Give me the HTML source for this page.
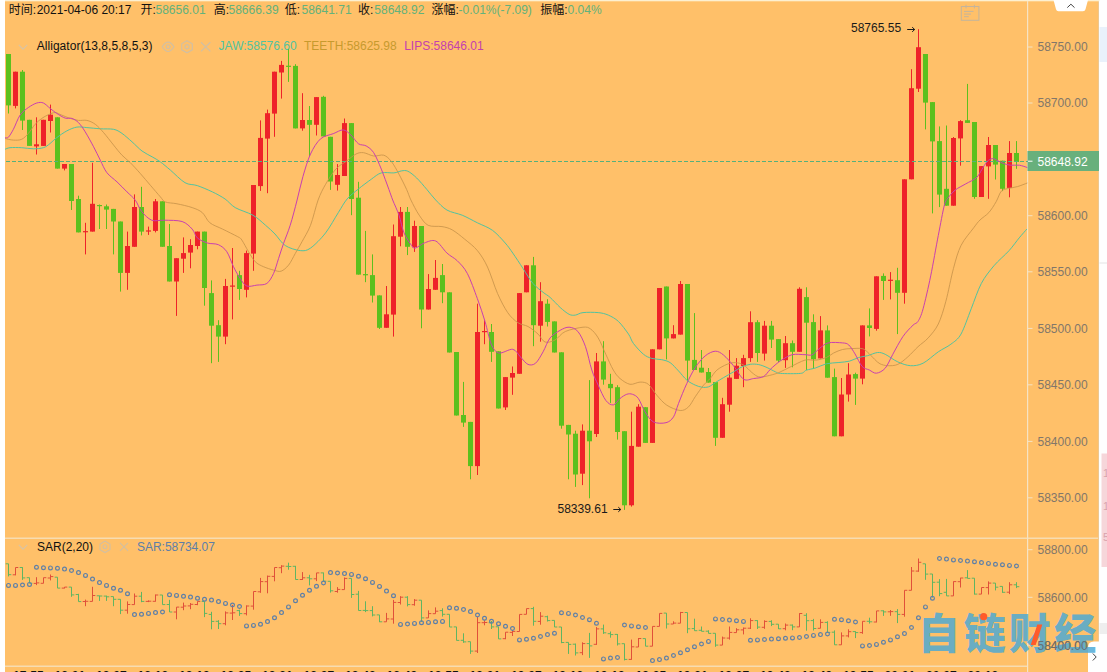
<!DOCTYPE html><html lang="zh"><head><meta charset="utf-8"><title>K</title>
<style>html,body{margin:0;padding:0;background:#ffc069;overflow:hidden}svg{display:block}text{font-family:"Liberation Sans","Noto Sans CJK SC",sans-serif}</style></head><body>
<svg width="1107" height="672" viewBox="0 0 1107 672">
<rect width="1107" height="672" fill="#ffc069"/>
<rect x="1098" y="0" width="1.2" height="672" fill="#ecc791"/>
<rect x="1099" y="0" width="8" height="672" fill="#fefefe"/>
<rect x="1099.5" y="27" width="7.5" height="35" fill="#e9f1fb"/>
<rect x="1101.5" y="453.5" width="5.5" height="113.5" fill="#f6d6da"/>
<rect x="1099.5" y="623" width="7.5" height="11" fill="#eeeeee"/>
<rect x="1099.5" y="262.5" width="7.5" height="1" fill="#e4e4e4"/>
<g font-size="11" fill="#d9a3ad"><text x="1103" y="477">1</text><text x="1103" y="510">1</text><text x="1103" y="541">5</text></g>
<rect x="5" y="0" width="1094.5" height="1.3" fill="#fdf0d0"/>
<rect x="0" y="0" width="5" height="672" fill="#ffffff"/>
<rect x="5" y="537.6" width="1093" height="1.2" fill="#f6e3c4"/>
<rect x="5" y="665.6" width="1023" height="1.2" fill="#f6e3c4"/>
<rect x="1027" y="1" width="1.2" height="671" fill="#f6e3c4"/>
<line x1="8.5" y1="54.0" x2="8.5" y2="113.5" stroke="#5cc01e" stroke-width="1"/>
<rect x="6.0" y="54.0" width="5" height="51.4" fill="#5cc01e"/>
<line x1="15.5" y1="71.7" x2="15.5" y2="108.4" stroke="#ee2229" stroke-width="1"/>
<rect x="13.0" y="71.7" width="5" height="34.2" fill="#ee2229"/>
<line x1="22.5" y1="70.0" x2="22.5" y2="130.0" stroke="#5cc01e" stroke-width="1"/>
<rect x="20.0" y="71.7" width="5" height="48.9" fill="#5cc01e"/>
<line x1="29.5" y1="119.8" x2="29.5" y2="145.9" stroke="#5cc01e" stroke-width="1"/>
<rect x="27.0" y="119.8" width="5" height="26.1" fill="#5cc01e"/>
<line x1="36.5" y1="117.3" x2="36.5" y2="154.5" stroke="#ee2229" stroke-width="1"/>
<rect x="34.0" y="144.3" width="5" height="2.1" fill="#ee2229"/>
<line x1="43.5" y1="119.8" x2="43.5" y2="145.9" stroke="#ee2229" stroke-width="1"/>
<rect x="41.0" y="119.8" width="5" height="26.1" fill="#ee2229"/>
<line x1="50.5" y1="104.6" x2="50.5" y2="132.5" stroke="#ee2229" stroke-width="1"/>
<rect x="48.0" y="114.7" width="5" height="6.3" fill="#ee2229"/>
<line x1="57.5" y1="117.3" x2="57.5" y2="168.6" stroke="#5cc01e" stroke-width="1"/>
<rect x="55.0" y="117.3" width="5" height="51.3" fill="#5cc01e"/>
<line x1="64.5" y1="164.0" x2="64.5" y2="170.4" stroke="#ee2229" stroke-width="1"/>
<rect x="62.0" y="164.0" width="5" height="4.6" fill="#ee2229"/>
<line x1="71.5" y1="164.0" x2="71.5" y2="210.0" stroke="#5cc01e" stroke-width="1"/>
<rect x="69.0" y="164.0" width="5" height="37.0" fill="#5cc01e"/>
<line x1="78.5" y1="195.7" x2="78.5" y2="232.4" stroke="#5cc01e" stroke-width="1"/>
<rect x="76.0" y="199.0" width="5" height="33.4" fill="#5cc01e"/>
<line x1="85.5" y1="222.8" x2="85.5" y2="254.4" stroke="#ee2229" stroke-width="1"/>
<rect x="83.0" y="231.1" width="5" height="1.2" fill="#ee2229"/>
<line x1="92.5" y1="162.8" x2="92.5" y2="231.6" stroke="#ee2229" stroke-width="1"/>
<rect x="90.0" y="203.8" width="5" height="27.8" fill="#ee2229"/>
<line x1="99.5" y1="204.5" x2="99.5" y2="229.0" stroke="#5cc01e" stroke-width="1"/>
<rect x="97.0" y="205.0" width="5" height="1.2" fill="#5cc01e"/>
<line x1="106.5" y1="204.5" x2="106.5" y2="229.0" stroke="#5cc01e" stroke-width="1"/>
<rect x="104.0" y="206.3" width="5" height="3.3" fill="#5cc01e"/>
<line x1="113.5" y1="208.9" x2="113.5" y2="254.4" stroke="#5cc01e" stroke-width="1"/>
<rect x="111.0" y="208.9" width="5" height="12.6" fill="#5cc01e"/>
<line x1="120.5" y1="221.5" x2="120.5" y2="291.6" stroke="#5cc01e" stroke-width="1"/>
<rect x="118.0" y="221.5" width="5" height="51.4" fill="#5cc01e"/>
<line x1="127.5" y1="231.6" x2="127.5" y2="289.8" stroke="#ee2229" stroke-width="1"/>
<rect x="125.0" y="246.0" width="5" height="26.9" fill="#ee2229"/>
<line x1="134.5" y1="194.4" x2="134.5" y2="246.8" stroke="#ee2229" stroke-width="1"/>
<rect x="132.0" y="207.0" width="5" height="39.8" fill="#ee2229"/>
<line x1="141.5" y1="186.8" x2="141.5" y2="235.4" stroke="#5cc01e" stroke-width="1"/>
<rect x="139.0" y="207.0" width="5" height="24.6" fill="#5cc01e"/>
<line x1="148.5" y1="226.6" x2="148.5" y2="234.9" stroke="#ee2229" stroke-width="1"/>
<rect x="146.0" y="230.4" width="5" height="1.2" fill="#ee2229"/>
<line x1="155.5" y1="199.0" x2="155.5" y2="232.4" stroke="#ee2229" stroke-width="1"/>
<rect x="153.0" y="201.3" width="5" height="29.6" fill="#ee2229"/>
<line x1="162.5" y1="201.3" x2="162.5" y2="246.8" stroke="#5cc01e" stroke-width="1"/>
<rect x="160.0" y="201.3" width="5" height="45.5" fill="#5cc01e"/>
<line x1="169.5" y1="224.0" x2="169.5" y2="281.5" stroke="#5cc01e" stroke-width="1"/>
<rect x="167.0" y="246.0" width="5" height="35.5" fill="#5cc01e"/>
<line x1="176.5" y1="258.2" x2="176.5" y2="315.9" stroke="#ee2229" stroke-width="1"/>
<rect x="174.0" y="258.2" width="5" height="23.3" fill="#ee2229"/>
<line x1="183.5" y1="237.4" x2="183.5" y2="272.9" stroke="#ee2229" stroke-width="1"/>
<rect x="181.0" y="253.1" width="5" height="5.6" fill="#ee2229"/>
<line x1="190.5" y1="239.2" x2="190.5" y2="268.3" stroke="#ee2229" stroke-width="1"/>
<rect x="188.0" y="245.0" width="5" height="7.6" fill="#ee2229"/>
<line x1="197.5" y1="231.6" x2="197.5" y2="249.3" stroke="#ee2229" stroke-width="1"/>
<rect x="195.0" y="231.6" width="5" height="14.4" fill="#ee2229"/>
<line x1="204.5" y1="231.6" x2="204.5" y2="305.7" stroke="#5cc01e" stroke-width="1"/>
<rect x="202.0" y="231.6" width="5" height="56.4" fill="#5cc01e"/>
<line x1="211.5" y1="280.4" x2="211.5" y2="363.2" stroke="#5cc01e" stroke-width="1"/>
<rect x="209.0" y="293.1" width="5" height="32.6" fill="#5cc01e"/>
<line x1="218.5" y1="320.2" x2="218.5" y2="361.9" stroke="#5cc01e" stroke-width="1"/>
<rect x="216.0" y="325.2" width="5" height="11.4" fill="#5cc01e"/>
<line x1="225.5" y1="278.9" x2="225.5" y2="344.2" stroke="#ee2229" stroke-width="1"/>
<rect x="223.0" y="286.0" width="5" height="50.6" fill="#ee2229"/>
<line x1="232.5" y1="248.0" x2="232.5" y2="319.4" stroke="#ee2229" stroke-width="1"/>
<rect x="230.0" y="285.5" width="5" height="1.2" fill="#ee2229"/>
<line x1="239.5" y1="270.8" x2="239.5" y2="299.9" stroke="#5cc01e" stroke-width="1"/>
<rect x="237.0" y="275.1" width="5" height="13.9" fill="#5cc01e"/>
<line x1="246.5" y1="250.6" x2="246.5" y2="297.4" stroke="#ee2229" stroke-width="1"/>
<rect x="244.0" y="253.1" width="5" height="36.7" fill="#ee2229"/>
<line x1="253.5" y1="185.0" x2="253.5" y2="270.8" stroke="#ee2229" stroke-width="1"/>
<rect x="251.0" y="185.0" width="5" height="68.6" fill="#ee2229"/>
<line x1="260.5" y1="120.4" x2="260.5" y2="190.9" stroke="#ee2229" stroke-width="1"/>
<rect x="258.0" y="137.9" width="5" height="48.2" fill="#ee2229"/>
<line x1="267.5" y1="109.6" x2="267.5" y2="193.2" stroke="#ee2229" stroke-width="1"/>
<rect x="265.0" y="113.2" width="5" height="25.4" fill="#ee2229"/>
<line x1="274.5" y1="71.7" x2="274.5" y2="136.8" stroke="#ee2229" stroke-width="1"/>
<rect x="272.0" y="71.7" width="5" height="41.9" fill="#ee2229"/>
<line x1="281.5" y1="60.9" x2="281.5" y2="98.6" stroke="#ee2229" stroke-width="1"/>
<rect x="279.0" y="64.9" width="5" height="7.6" fill="#ee2229"/>
<line x1="288.5" y1="49.0" x2="288.5" y2="81.9" stroke="#5cc01e" stroke-width="1"/>
<rect x="286.0" y="65.7" width="5" height="1.2" fill="#5cc01e"/>
<line x1="295.5" y1="64.2" x2="295.5" y2="128.4" stroke="#5cc01e" stroke-width="1"/>
<rect x="293.0" y="65.9" width="5" height="62.5" fill="#5cc01e"/>
<line x1="302.5" y1="93.2" x2="302.5" y2="130.7" stroke="#ee2229" stroke-width="1"/>
<rect x="300.0" y="120.0" width="5" height="8.4" fill="#ee2229"/>
<line x1="309.5" y1="106.0" x2="309.5" y2="156.0" stroke="#5cc01e" stroke-width="1"/>
<rect x="307.0" y="120.0" width="5" height="4.8" fill="#5cc01e"/>
<line x1="316.5" y1="97.1" x2="316.5" y2="135.5" stroke="#ee2229" stroke-width="1"/>
<rect x="314.0" y="97.1" width="5" height="27.7" fill="#ee2229"/>
<line x1="323.5" y1="95.8" x2="323.5" y2="136.4" stroke="#5cc01e" stroke-width="1"/>
<rect x="321.0" y="96.8" width="5" height="39.6" fill="#5cc01e"/>
<line x1="330.5" y1="136.8" x2="330.5" y2="189.9" stroke="#5cc01e" stroke-width="1"/>
<rect x="328.0" y="136.8" width="5" height="44.7" fill="#5cc01e"/>
<line x1="337.5" y1="164.1" x2="337.5" y2="190.6" stroke="#ee2229" stroke-width="1"/>
<rect x="335.0" y="175.0" width="5" height="9.8" fill="#ee2229"/>
<line x1="344.5" y1="118.5" x2="344.5" y2="176.0" stroke="#ee2229" stroke-width="1"/>
<rect x="342.0" y="123.1" width="5" height="52.9" fill="#ee2229"/>
<line x1="351.5" y1="123.1" x2="351.5" y2="215.2" stroke="#5cc01e" stroke-width="1"/>
<rect x="349.0" y="123.1" width="5" height="75.9" fill="#5cc01e"/>
<line x1="358.5" y1="181.8" x2="358.5" y2="274.6" stroke="#5cc01e" stroke-width="1"/>
<rect x="356.0" y="197.7" width="5" height="76.9" fill="#5cc01e"/>
<line x1="365.5" y1="230.9" x2="365.5" y2="282.2" stroke="#5cc01e" stroke-width="1"/>
<rect x="363.0" y="274.1" width="5" height="1.2" fill="#5cc01e"/>
<line x1="372.5" y1="254.4" x2="372.5" y2="302.5" stroke="#5cc01e" stroke-width="1"/>
<rect x="370.0" y="275.1" width="5" height="20.5" fill="#5cc01e"/>
<line x1="379.5" y1="295.4" x2="379.5" y2="329.0" stroke="#5cc01e" stroke-width="1"/>
<rect x="377.0" y="295.4" width="5" height="32.4" fill="#5cc01e"/>
<line x1="386.5" y1="286.0" x2="386.5" y2="327.8" stroke="#ee2229" stroke-width="1"/>
<rect x="384.0" y="314.3" width="5" height="13.5" fill="#ee2229"/>
<line x1="393.5" y1="224.5" x2="393.5" y2="336.6" stroke="#ee2229" stroke-width="1"/>
<rect x="391.0" y="236.2" width="5" height="78.4" fill="#ee2229"/>
<line x1="400.5" y1="207.0" x2="400.5" y2="246.3" stroke="#ee2229" stroke-width="1"/>
<rect x="398.0" y="211.9" width="5" height="24.8" fill="#ee2229"/>
<line x1="407.5" y1="207.0" x2="407.5" y2="255.1" stroke="#5cc01e" stroke-width="1"/>
<rect x="405.0" y="211.9" width="5" height="34.9" fill="#5cc01e"/>
<line x1="414.5" y1="220.7" x2="414.5" y2="251.9" stroke="#ee2229" stroke-width="1"/>
<rect x="412.0" y="226.0" width="5" height="21.3" fill="#ee2229"/>
<line x1="421.5" y1="226.0" x2="421.5" y2="328.3" stroke="#5cc01e" stroke-width="1"/>
<rect x="419.0" y="226.0" width="5" height="83.5" fill="#5cc01e"/>
<line x1="428.5" y1="274.1" x2="428.5" y2="309.5" stroke="#ee2229" stroke-width="1"/>
<rect x="426.0" y="289.0" width="5" height="20.5" fill="#ee2229"/>
<line x1="435.5" y1="260.0" x2="435.5" y2="289.8" stroke="#ee2229" stroke-width="1"/>
<rect x="433.0" y="277.9" width="5" height="11.9" fill="#ee2229"/>
<line x1="442.5" y1="264.0" x2="442.5" y2="303.2" stroke="#5cc01e" stroke-width="1"/>
<rect x="440.0" y="275.1" width="5" height="17.2" fill="#5cc01e"/>
<line x1="449.5" y1="292.3" x2="449.5" y2="352.5" stroke="#5cc01e" stroke-width="1"/>
<rect x="447.0" y="292.3" width="5" height="60.2" fill="#5cc01e"/>
<line x1="456.5" y1="352.0" x2="456.5" y2="415.5" stroke="#5cc01e" stroke-width="1"/>
<rect x="454.0" y="352.0" width="5" height="63.5" fill="#5cc01e"/>
<line x1="463.5" y1="381.9" x2="463.5" y2="426.9" stroke="#5cc01e" stroke-width="1"/>
<rect x="461.0" y="415.0" width="5" height="7.6" fill="#5cc01e"/>
<line x1="470.5" y1="421.9" x2="470.5" y2="479.3" stroke="#5cc01e" stroke-width="1"/>
<rect x="468.0" y="421.9" width="5" height="44.2" fill="#5cc01e"/>
<line x1="477.5" y1="303.7" x2="477.5" y2="475.0" stroke="#ee2229" stroke-width="1"/>
<rect x="475.0" y="332.0" width="5" height="134.1" fill="#ee2229"/>
<line x1="484.5" y1="320.2" x2="484.5" y2="344.2" stroke="#ee2229" stroke-width="1"/>
<rect x="482.0" y="331.0" width="5" height="1.2" fill="#ee2229"/>
<line x1="491.5" y1="324.0" x2="491.5" y2="361.9" stroke="#5cc01e" stroke-width="1"/>
<rect x="489.0" y="332.0" width="5" height="19.8" fill="#5cc01e"/>
<line x1="498.5" y1="351.3" x2="498.5" y2="408.5" stroke="#5cc01e" stroke-width="1"/>
<rect x="496.0" y="351.3" width="5" height="57.2" fill="#5cc01e"/>
<line x1="505.5" y1="377.1" x2="505.5" y2="410.0" stroke="#ee2229" stroke-width="1"/>
<rect x="503.0" y="377.1" width="5" height="30.3" fill="#ee2229"/>
<line x1="512.5" y1="366.5" x2="512.5" y2="394.8" stroke="#ee2229" stroke-width="1"/>
<rect x="510.0" y="373.0" width="5" height="4.6" fill="#ee2229"/>
<line x1="519.5" y1="293.1" x2="519.5" y2="373.8" stroke="#ee2229" stroke-width="1"/>
<rect x="517.0" y="293.1" width="5" height="80.7" fill="#ee2229"/>
<line x1="526.5" y1="265.3" x2="526.5" y2="292.3" stroke="#ee2229" stroke-width="1"/>
<rect x="524.0" y="265.3" width="5" height="27.0" fill="#ee2229"/>
<line x1="533.5" y1="256.9" x2="533.5" y2="346.2" stroke="#5cc01e" stroke-width="1"/>
<rect x="531.0" y="265.3" width="5" height="59.9" fill="#5cc01e"/>
<line x1="540.5" y1="282.2" x2="540.5" y2="341.7" stroke="#ee2229" stroke-width="1"/>
<rect x="538.0" y="301.2" width="5" height="24.5" fill="#ee2229"/>
<line x1="547.5" y1="299.2" x2="547.5" y2="326.5" stroke="#5cc01e" stroke-width="1"/>
<rect x="545.0" y="303.7" width="5" height="18.2" fill="#5cc01e"/>
<line x1="554.5" y1="321.4" x2="554.5" y2="352.5" stroke="#5cc01e" stroke-width="1"/>
<rect x="552.0" y="321.4" width="5" height="31.1" fill="#5cc01e"/>
<line x1="561.5" y1="352.3" x2="561.5" y2="428.7" stroke="#5cc01e" stroke-width="1"/>
<rect x="559.0" y="352.3" width="5" height="73.4" fill="#5cc01e"/>
<line x1="568.5" y1="424.9" x2="568.5" y2="479.3" stroke="#5cc01e" stroke-width="1"/>
<rect x="566.0" y="424.9" width="5" height="9.6" fill="#5cc01e"/>
<line x1="575.5" y1="430.7" x2="575.5" y2="486.9" stroke="#5cc01e" stroke-width="1"/>
<rect x="573.0" y="433.7" width="5" height="40.8" fill="#5cc01e"/>
<line x1="582.5" y1="424.4" x2="582.5" y2="485.1" stroke="#ee2229" stroke-width="1"/>
<rect x="580.0" y="430.7" width="5" height="43.0" fill="#ee2229"/>
<line x1="589.5" y1="380.1" x2="589.5" y2="498.3" stroke="#5cc01e" stroke-width="1"/>
<rect x="587.0" y="430.7" width="5" height="10.6" fill="#5cc01e"/>
<line x1="596.5" y1="353.0" x2="596.5" y2="437.0" stroke="#ee2229" stroke-width="1"/>
<rect x="594.0" y="361.4" width="5" height="72.6" fill="#ee2229"/>
<line x1="603.5" y1="341.2" x2="603.5" y2="384.7" stroke="#5cc01e" stroke-width="1"/>
<rect x="601.0" y="361.4" width="5" height="18.2" fill="#5cc01e"/>
<line x1="610.5" y1="373.8" x2="610.5" y2="402.9" stroke="#5cc01e" stroke-width="1"/>
<rect x="608.0" y="383.9" width="5" height="4.3" fill="#5cc01e"/>
<line x1="617.5" y1="385.2" x2="617.5" y2="439.6" stroke="#5cc01e" stroke-width="1"/>
<rect x="615.0" y="387.2" width="5" height="44.8" fill="#5cc01e"/>
<line x1="624.5" y1="431.2" x2="624.5" y2="509.9" stroke="#5cc01e" stroke-width="1"/>
<rect x="622.0" y="431.2" width="5" height="74.1" fill="#5cc01e"/>
<line x1="631.5" y1="411.7" x2="631.5" y2="506.6" stroke="#ee2229" stroke-width="1"/>
<rect x="629.0" y="445.9" width="5" height="59.4" fill="#ee2229"/>
<line x1="638.5" y1="404.2" x2="638.5" y2="446.7" stroke="#ee2229" stroke-width="1"/>
<rect x="636.0" y="406.7" width="5" height="40.0" fill="#ee2229"/>
<line x1="645.5" y1="407.2" x2="645.5" y2="442.9" stroke="#5cc01e" stroke-width="1"/>
<rect x="643.0" y="407.2" width="5" height="35.7" fill="#5cc01e"/>
<line x1="652.5" y1="349.3" x2="652.5" y2="442.9" stroke="#ee2229" stroke-width="1"/>
<rect x="650.0" y="349.3" width="5" height="93.6" fill="#ee2229"/>
<line x1="659.5" y1="288.0" x2="659.5" y2="349.3" stroke="#ee2229" stroke-width="1"/>
<rect x="657.0" y="288.0" width="5" height="61.3" fill="#ee2229"/>
<line x1="666.5" y1="286.5" x2="666.5" y2="359.4" stroke="#5cc01e" stroke-width="1"/>
<rect x="664.0" y="286.5" width="5" height="51.9" fill="#5cc01e"/>
<line x1="673.5" y1="325.2" x2="673.5" y2="338.4" stroke="#ee2229" stroke-width="1"/>
<rect x="671.0" y="334.1" width="5" height="4.3" fill="#ee2229"/>
<line x1="680.5" y1="281.0" x2="680.5" y2="334.6" stroke="#ee2229" stroke-width="1"/>
<rect x="678.0" y="284.0" width="5" height="50.6" fill="#ee2229"/>
<line x1="687.5" y1="284.0" x2="687.5" y2="381.4" stroke="#5cc01e" stroke-width="1"/>
<rect x="685.0" y="284.0" width="5" height="76.6" fill="#5cc01e"/>
<line x1="694.5" y1="313.1" x2="694.5" y2="370.0" stroke="#5cc01e" stroke-width="1"/>
<rect x="692.0" y="359.9" width="5" height="10.1" fill="#5cc01e"/>
<line x1="701.5" y1="350.0" x2="701.5" y2="372.5" stroke="#5cc01e" stroke-width="1"/>
<rect x="699.0" y="367.7" width="5" height="4.8" fill="#5cc01e"/>
<line x1="708.5" y1="368.0" x2="708.5" y2="382.6" stroke="#5cc01e" stroke-width="1"/>
<rect x="706.0" y="372.0" width="5" height="10.6" fill="#5cc01e"/>
<line x1="715.5" y1="382.1" x2="715.5" y2="445.9" stroke="#5cc01e" stroke-width="1"/>
<rect x="713.0" y="382.1" width="5" height="55.7" fill="#5cc01e"/>
<line x1="722.5" y1="397.8" x2="722.5" y2="437.8" stroke="#ee2229" stroke-width="1"/>
<rect x="720.0" y="404.2" width="5" height="33.6" fill="#ee2229"/>
<line x1="729.5" y1="350.0" x2="729.5" y2="411.7" stroke="#ee2229" stroke-width="1"/>
<rect x="727.0" y="377.6" width="5" height="27.1" fill="#ee2229"/>
<line x1="736.5" y1="358.1" x2="736.5" y2="378.9" stroke="#ee2229" stroke-width="1"/>
<rect x="734.0" y="365.7" width="5" height="13.2" fill="#ee2229"/>
<line x1="743.5" y1="354.8" x2="743.5" y2="387.2" stroke="#ee2229" stroke-width="1"/>
<rect x="741.0" y="358.1" width="5" height="7.9" fill="#ee2229"/>
<line x1="750.5" y1="311.3" x2="750.5" y2="361.9" stroke="#ee2229" stroke-width="1"/>
<rect x="748.0" y="322.2" width="5" height="35.9" fill="#ee2229"/>
<line x1="757.5" y1="320.2" x2="757.5" y2="361.9" stroke="#5cc01e" stroke-width="1"/>
<rect x="755.0" y="322.2" width="5" height="30.8" fill="#5cc01e"/>
<line x1="764.5" y1="320.9" x2="764.5" y2="360.6" stroke="#ee2229" stroke-width="1"/>
<rect x="762.0" y="325.7" width="5" height="27.9" fill="#ee2229"/>
<line x1="771.5" y1="320.9" x2="771.5" y2="348.0" stroke="#5cc01e" stroke-width="1"/>
<rect x="769.0" y="325.7" width="5" height="13.9" fill="#5cc01e"/>
<line x1="778.5" y1="339.1" x2="778.5" y2="362.0" stroke="#5cc01e" stroke-width="1"/>
<rect x="776.0" y="339.1" width="5" height="21.5" fill="#5cc01e"/>
<line x1="785.5" y1="336.0" x2="785.5" y2="367.9" stroke="#ee2229" stroke-width="1"/>
<rect x="783.0" y="343.2" width="5" height="17.0" fill="#ee2229"/>
<line x1="792.5" y1="340.5" x2="792.5" y2="367.3" stroke="#5cc01e" stroke-width="1"/>
<rect x="790.0" y="343.2" width="5" height="8.6" fill="#5cc01e"/>
<line x1="799.5" y1="287.3" x2="799.5" y2="351.8" stroke="#ee2229" stroke-width="1"/>
<rect x="797.0" y="288.8" width="5" height="63.0" fill="#ee2229"/>
<line x1="806.5" y1="287.3" x2="806.5" y2="370.0" stroke="#5cc01e" stroke-width="1"/>
<rect x="804.0" y="297.1" width="5" height="25.6" fill="#5cc01e"/>
<line x1="813.5" y1="314.3" x2="813.5" y2="368.8" stroke="#5cc01e" stroke-width="1"/>
<rect x="811.0" y="322.1" width="5" height="37.2" fill="#5cc01e"/>
<line x1="820.5" y1="316.1" x2="820.5" y2="358.4" stroke="#ee2229" stroke-width="1"/>
<rect x="818.0" y="330.4" width="5" height="28.0" fill="#ee2229"/>
<line x1="827.5" y1="325.4" x2="827.5" y2="377.7" stroke="#5cc01e" stroke-width="1"/>
<rect x="825.0" y="330.4" width="5" height="47.3" fill="#5cc01e"/>
<line x1="834.5" y1="368.6" x2="834.5" y2="436.3" stroke="#5cc01e" stroke-width="1"/>
<rect x="832.0" y="377.1" width="5" height="59.2" fill="#5cc01e"/>
<line x1="841.5" y1="378.0" x2="841.5" y2="436.3" stroke="#ee2229" stroke-width="1"/>
<rect x="839.0" y="394.5" width="5" height="41.8" fill="#ee2229"/>
<line x1="848.5" y1="363.2" x2="848.5" y2="401.6" stroke="#ee2229" stroke-width="1"/>
<rect x="846.0" y="374.5" width="5" height="20.0" fill="#ee2229"/>
<line x1="855.5" y1="372.7" x2="855.5" y2="404.9" stroke="#5cc01e" stroke-width="1"/>
<rect x="853.0" y="374.1" width="5" height="4.5" fill="#5cc01e"/>
<line x1="862.5" y1="325.4" x2="862.5" y2="384.3" stroke="#ee2229" stroke-width="1"/>
<rect x="860.0" y="325.4" width="5" height="53.2" fill="#ee2229"/>
<line x1="869.5" y1="308.4" x2="869.5" y2="336.4" stroke="#5cc01e" stroke-width="1"/>
<rect x="867.0" y="325.4" width="5" height="2.6" fill="#5cc01e"/>
<line x1="876.5" y1="276.3" x2="876.5" y2="330.7" stroke="#ee2229" stroke-width="1"/>
<rect x="874.0" y="276.3" width="5" height="52.6" fill="#ee2229"/>
<line x1="883.5" y1="273.4" x2="883.5" y2="299.9" stroke="#5cc01e" stroke-width="1"/>
<rect x="881.0" y="275.9" width="5" height="5.1" fill="#5cc01e"/>
<line x1="890.5" y1="272.1" x2="890.5" y2="299.4" stroke="#ee2229" stroke-width="1"/>
<rect x="888.0" y="279.7" width="5" height="1.2" fill="#ee2229"/>
<line x1="897.5" y1="267.8" x2="897.5" y2="334.1" stroke="#5cc01e" stroke-width="1"/>
<rect x="895.0" y="280.2" width="5" height="12.6" fill="#5cc01e"/>
<line x1="904.5" y1="179.3" x2="904.5" y2="303.7" stroke="#ee2229" stroke-width="1"/>
<rect x="902.0" y="179.3" width="5" height="113.5" fill="#ee2229"/>
<line x1="911.5" y1="69.2" x2="911.5" y2="179.3" stroke="#ee2229" stroke-width="1"/>
<rect x="909.0" y="88.2" width="5" height="91.1" fill="#ee2229"/>
<line x1="918.5" y1="29.2" x2="918.5" y2="92.0" stroke="#ee2229" stroke-width="1"/>
<rect x="916.0" y="47.2" width="5" height="41.5" fill="#ee2229"/>
<line x1="925.5" y1="54.0" x2="925.5" y2="129.4" stroke="#5cc01e" stroke-width="1"/>
<rect x="923.0" y="54.0" width="5" height="48.6" fill="#5cc01e"/>
<line x1="932.5" y1="102.1" x2="932.5" y2="213.4" stroke="#5cc01e" stroke-width="1"/>
<rect x="930.0" y="102.1" width="5" height="39.3" fill="#5cc01e"/>
<line x1="939.5" y1="126.4" x2="939.5" y2="207.1" stroke="#5cc01e" stroke-width="1"/>
<rect x="937.0" y="141.1" width="5" height="53.5" fill="#5cc01e"/>
<line x1="946.5" y1="125.5" x2="946.5" y2="205.7" stroke="#5cc01e" stroke-width="1"/>
<rect x="944.0" y="188.8" width="5" height="16.9" fill="#5cc01e"/>
<line x1="953.5" y1="137.0" x2="953.5" y2="205.7" stroke="#ee2229" stroke-width="1"/>
<rect x="951.0" y="138.0" width="5" height="67.7" fill="#ee2229"/>
<line x1="960.5" y1="120.2" x2="960.5" y2="165.7" stroke="#ee2229" stroke-width="1"/>
<rect x="958.0" y="121.1" width="5" height="17.3" fill="#ee2229"/>
<line x1="967.5" y1="83.9" x2="967.5" y2="122.9" stroke="#5cc01e" stroke-width="1"/>
<rect x="965.0" y="120.2" width="5" height="2.7" fill="#5cc01e"/>
<line x1="974.5" y1="122.0" x2="974.5" y2="198.8" stroke="#5cc01e" stroke-width="1"/>
<rect x="972.0" y="122.0" width="5" height="75.0" fill="#5cc01e"/>
<line x1="981.5" y1="166.1" x2="981.5" y2="197.0" stroke="#ee2229" stroke-width="1"/>
<rect x="979.0" y="166.1" width="5" height="30.9" fill="#ee2229"/>
<line x1="988.5" y1="137.0" x2="988.5" y2="198.8" stroke="#ee2229" stroke-width="1"/>
<rect x="986.0" y="145.0" width="5" height="21.4" fill="#ee2229"/>
<line x1="995.5" y1="145.0" x2="995.5" y2="179.5" stroke="#5cc01e" stroke-width="1"/>
<rect x="993.0" y="145.0" width="5" height="19.6" fill="#5cc01e"/>
<line x1="1002.5" y1="160.7" x2="1002.5" y2="191.1" stroke="#5cc01e" stroke-width="1"/>
<rect x="1000.0" y="160.7" width="5" height="28.1" fill="#5cc01e"/>
<line x1="1009.5" y1="141.1" x2="1009.5" y2="197.3" stroke="#ee2229" stroke-width="1"/>
<rect x="1007.0" y="153.0" width="5" height="34.9" fill="#ee2229"/>
<line x1="1016.5" y1="141.1" x2="1016.5" y2="168.8" stroke="#5cc01e" stroke-width="1"/>
<rect x="1014.0" y="153.0" width="5" height="9.0" fill="#5cc01e"/>
<line x1="6" y1="161.5" x2="1028" y2="161.5" stroke="#56b07c" stroke-width="1" stroke-dasharray="4 2"/>
<path fill="none" stroke="#52c3a0" stroke-width="1.0" stroke-linejoin="round" d="M5.0 149.3C5.8 149.0 7.3 148.0 10.0 147.7C12.7 147.4 18.0 147.5 21.7 147.7C25.4 147.9 29.9 148.8 33.4 148.8C36.9 148.8 40.7 148.5 43.4 147.7C46.1 146.9 48.0 145.1 50.1 143.5C52.2 141.9 54.1 139.6 56.8 137.6C59.5 135.6 63.6 132.6 66.8 130.9C70.0 129.2 73.7 127.6 76.9 127.1C80.1 126.6 83.2 127.3 86.9 127.6C90.6 127.9 96.0 128.5 100.3 128.8C104.6 129.1 110.1 128.6 113.6 129.3C117.1 130.0 119.1 131.4 122.0 133.4C124.9 135.4 128.8 139.0 132.0 141.8C135.2 144.6 138.8 148.6 142.0 151.0C145.2 153.4 149.2 155.1 152.1 156.8C155.0 158.5 157.5 159.8 160.4 161.9C163.3 164.0 166.6 166.9 170.5 170.2C174.4 173.5 180.7 180.2 185.0 182.7C189.3 185.2 192.9 184.1 197.3 185.6C201.7 187.1 208.0 189.8 212.4 191.9C216.8 194.0 221.5 196.5 225.1 199.0C228.7 201.5 230.8 205.0 235.2 207.6C239.6 210.2 248.0 212.4 252.9 215.2C257.8 218.0 262.1 222.3 265.6 225.3C269.1 228.3 271.9 230.8 275.0 234.0C278.1 237.2 281.2 242.8 285.2 245.5C289.2 248.2 296.3 250.2 300.3 250.6C304.3 251.0 306.5 250.9 310.5 248.1C314.5 245.3 321.2 238.6 325.6 232.9C330.0 227.2 334.9 218.0 338.3 212.6C341.7 207.2 343.9 202.8 347.1 199.0C350.3 195.2 354.6 192.1 358.5 188.9C362.4 185.7 367.6 181.9 371.2 179.3C374.8 176.7 377.7 173.9 381.3 172.9C384.9 171.9 390.7 173.2 393.9 172.9C397.1 172.6 399.3 171.2 401.5 170.9C403.7 170.6 405.4 170.1 407.8 171.2C410.2 172.3 413.7 175.1 416.7 178.0C419.7 180.9 423.8 185.9 426.8 189.4C429.8 192.9 432.5 196.7 435.7 200.0C438.9 203.3 442.8 207.7 447.0 210.1C451.2 212.5 457.3 213.2 462.2 215.2C467.1 217.2 472.5 220.4 477.4 222.8C482.3 225.2 488.2 227.2 492.6 230.4C497.0 233.6 502.0 239.4 505.2 243.0C508.4 246.6 510.0 249.1 512.8 253.1C515.6 257.1 519.7 263.4 522.9 268.3C526.1 273.2 529.8 279.7 533.0 283.5C536.2 287.3 540.4 290.1 543.1 292.3C545.8 294.5 547.4 295.0 550.1 297.4C552.8 299.8 557.2 304.8 560.2 307.5C563.2 310.2 566.7 313.1 569.1 314.3C571.5 315.5 573.2 315.4 575.4 315.1C577.6 314.8 579.4 313.0 583.0 312.6C586.6 312.2 594.2 312.2 598.2 312.6C602.2 313.0 605.1 313.7 608.3 315.1C611.5 316.5 615.2 318.4 618.4 321.4C621.6 324.4 626.1 330.6 628.5 334.1C630.9 337.6 631.0 340.2 633.4 343.4C635.8 346.6 640.5 351.8 643.4 354.2C646.3 356.6 648.9 357.5 651.8 358.4C654.7 359.3 658.9 359.0 661.8 359.7C664.7 360.4 667.4 360.8 670.1 362.6C672.8 364.4 675.8 368.1 678.5 370.9C681.2 373.7 684.1 377.8 686.8 380.1C689.5 382.4 692.8 384.0 695.2 385.1C697.6 386.2 699.8 386.9 701.9 387.2C704.0 387.5 706.5 387.5 708.6 386.8C710.7 386.1 712.9 384.1 715.3 382.6C717.7 381.1 720.7 379.3 723.6 377.6C726.5 375.9 730.7 373.5 733.6 371.8C736.5 370.1 739.3 368.0 742.0 366.8C744.7 365.6 747.6 364.7 750.3 364.3C753.0 363.9 756.0 364.1 758.7 364.6C761.4 365.1 764.4 366.4 767.1 367.6C769.8 368.8 773.3 370.9 775.4 371.8C777.5 372.7 776.4 373.1 780.4 373.4C784.4 373.7 796.6 373.8 800.5 373.4C804.4 373.0 804.0 371.4 805.0 370.9C806.0 370.4 805.1 370.5 806.8 370.0C808.5 369.5 812.6 368.9 815.7 367.9C818.8 366.9 822.7 364.7 826.4 363.8C830.1 362.9 835.2 362.9 838.9 362.5C842.6 362.1 846.4 361.9 849.6 361.1C852.8 360.3 855.7 358.4 858.6 357.5C861.5 356.6 864.5 356.5 867.5 355.7C870.5 354.9 874.8 352.7 877.6 352.5C880.4 352.3 882.0 352.8 885.2 354.3C888.4 355.8 893.8 360.1 897.8 361.9C901.8 363.7 906.5 365.5 910.5 365.7C914.5 365.9 918.7 365.4 923.1 363.2C927.5 361.0 933.9 354.8 938.3 351.8C942.7 348.8 947.3 347.0 950.9 344.2C954.5 341.4 957.8 339.8 961.0 334.1C964.2 328.4 968.0 316.9 971.2 308.8C974.4 300.7 977.7 290.4 981.3 283.5C984.9 276.6 989.5 271.1 993.9 265.8C998.3 260.5 1005.1 255.1 1009.1 250.6C1013.1 246.1 1016.4 241.3 1019.2 237.9C1022.0 234.5 1025.6 230.5 1026.8 229.1"/>
<path fill="none" stroke="#c9944a" stroke-width="0.85" stroke-linejoin="round" d="M5.0 138.5C6.3 138.8 10.7 140.0 13.4 140.1C16.1 140.2 19.3 140.4 21.7 139.3C24.1 138.2 26.3 135.8 28.4 133.4C30.5 131.0 33.0 126.7 35.1 124.3C37.2 121.9 39.7 119.9 41.8 118.4C43.9 116.9 46.4 115.6 48.5 114.7C50.6 113.8 53.0 112.5 55.1 112.6C57.2 112.7 59.4 114.2 61.8 115.1C64.2 116.0 67.5 117.6 70.2 118.4C72.9 119.2 75.8 120.1 78.5 120.4C81.2 120.7 84.2 119.8 86.9 120.4C89.6 121.0 92.6 122.3 95.3 124.3C98.0 126.3 100.7 129.3 103.6 132.6C106.5 135.9 110.7 141.5 113.6 145.1C116.5 148.7 119.3 152.4 122.0 155.2C124.7 158.0 127.4 159.8 130.3 162.7C133.2 165.6 137.2 170.0 140.4 173.6C143.6 177.2 147.2 181.6 150.4 185.3C153.6 189.0 158.0 194.2 160.4 196.9C162.8 199.6 162.7 200.9 165.4 202.0C168.1 203.1 172.7 202.9 177.0 203.8C181.3 204.7 188.2 206.2 192.2 207.6C196.2 209.0 199.5 210.2 202.3 212.6C205.1 215.0 206.7 220.2 209.9 222.8C213.1 225.4 218.2 226.9 222.6 229.1C227.0 231.3 234.6 235.0 237.7 236.7C240.8 238.4 240.1 237.6 241.8 240.0C243.5 242.4 246.4 248.2 248.5 251.7C250.6 255.2 252.8 259.3 255.2 261.7C257.6 264.1 260.6 265.4 263.5 266.7C266.4 268.0 270.8 269.4 273.6 270.1C276.4 270.8 278.7 272.0 281.1 271.2C283.5 270.4 286.3 267.9 288.6 265.1C290.9 262.3 293.2 257.1 295.3 253.4C297.4 249.7 299.6 246.2 302.0 241.7C304.4 237.2 307.9 232.0 310.5 225.3C313.1 218.6 315.7 206.6 318.1 200.0C320.5 193.4 322.8 189.2 325.6 184.3C328.4 179.4 332.6 172.7 335.8 169.1C339.0 165.5 342.7 163.9 345.9 161.5C349.1 159.1 353.2 155.4 356.0 154.0C358.8 152.6 360.8 152.4 363.6 152.7C366.4 153.0 370.5 155.6 373.7 156.0C376.9 156.4 381.0 154.3 383.8 155.2C386.6 156.1 389.0 158.5 391.4 161.5C393.8 164.5 396.6 169.7 399.0 174.2C401.4 178.7 404.7 185.3 406.6 189.4C408.5 193.5 408.9 195.9 410.9 200.0C412.9 204.1 416.4 211.2 419.2 215.2C422.0 219.2 424.5 223.5 428.1 225.3C431.7 227.1 438.2 225.9 442.0 226.6C445.8 227.3 448.5 227.8 452.1 229.8C455.7 231.8 460.7 235.9 464.7 239.2C468.7 242.5 473.8 246.2 477.4 250.6C481.0 255.0 484.3 260.1 487.5 267.0C490.7 273.9 494.4 286.3 497.6 293.6C500.8 300.9 504.5 307.9 507.7 312.6C510.9 317.3 514.7 320.5 517.9 322.7C521.1 324.9 524.8 324.7 528.0 326.5C531.2 328.3 535.4 331.6 538.1 334.1C540.8 336.6 542.3 341.1 545.0 342.0C547.7 342.9 551.8 341.7 555.0 340.0C558.2 338.3 560.8 333.5 565.3 331.5C569.8 329.5 579.0 327.6 583.0 327.2C587.0 326.8 588.2 327.3 590.6 329.0C593.0 330.7 595.8 333.9 598.2 337.9C600.6 341.9 603.4 349.2 605.8 354.3C608.2 359.4 611.0 366.1 613.3 370.0C615.6 373.9 617.3 376.2 620.0 378.5C622.7 380.8 626.8 383.7 630.0 384.3C633.2 384.9 637.2 382.1 640.1 382.1C643.0 382.1 645.7 382.2 648.4 384.3C651.1 386.4 653.9 391.9 656.8 395.2C659.7 398.5 663.1 402.8 666.8 405.2C670.5 407.6 676.7 410.2 680.2 410.5C683.7 410.8 686.1 409.1 688.5 406.9C690.9 404.7 692.8 400.3 695.2 396.8C697.6 393.3 701.2 388.0 703.6 385.1C706.0 382.2 708.1 380.9 710.2 378.5C712.3 376.1 714.2 372.4 716.9 370.1C719.6 367.8 724.1 365.5 727.0 364.3C729.9 363.1 732.6 362.5 735.3 362.6C738.0 362.7 741.0 363.5 743.7 365.1C746.4 366.7 749.6 370.7 752.0 372.6C754.4 374.5 756.3 376.3 758.7 376.8C761.1 377.3 763.9 376.7 767.1 376.0C770.3 375.3 775.1 374.1 778.8 372.6C782.5 371.1 786.3 368.8 790.5 366.8C794.7 364.8 801.0 361.2 805.0 360.1C809.0 359.0 812.3 360.6 815.7 360.2C819.1 359.8 823.5 358.7 826.4 357.5C829.3 356.3 831.0 354.3 833.6 353.0C836.2 351.7 839.7 350.2 842.5 349.5C845.3 348.8 848.3 348.7 851.4 348.6C854.5 348.5 859.5 348.0 862.1 348.6C864.7 349.2 865.5 350.4 867.5 352.1C869.5 353.8 872.6 357.4 874.6 359.3C876.6 361.2 877.9 362.8 880.0 363.8C882.1 364.8 884.9 365.6 887.7 365.7C890.5 365.8 894.6 365.8 897.8 364.4C901.0 363.0 904.7 359.6 907.9 356.8C911.1 354.0 914.8 349.7 918.0 346.7C921.2 343.7 925.0 341.5 928.2 337.9C931.4 334.3 935.5 329.9 938.3 324.0C941.1 318.1 943.5 310.1 945.9 301.2C948.3 292.3 951.1 277.2 953.5 268.3C955.9 259.4 957.8 252.0 961.0 245.5C964.2 239.0 970.7 231.9 973.7 227.8C976.7 223.7 977.6 222.4 980.0 220.0C982.4 217.6 986.3 215.4 988.9 212.5C991.5 209.6 994.1 205.2 996.1 201.8C998.1 198.4 999.4 193.2 1001.4 191.1C1003.4 189.0 1006.0 189.1 1008.6 188.4C1011.2 187.7 1014.5 187.5 1017.5 186.6C1020.5 185.7 1025.7 183.6 1027.3 183.0"/>
<path fill="none" stroke="#c93fb0" stroke-width="1.0" stroke-linejoin="round" d="M5.0 137.6C5.5 137.5 7.1 138.5 8.4 137.2C9.7 135.9 11.5 132.8 13.4 129.3C15.3 125.8 17.7 118.6 20.1 115.1C22.5 111.6 25.7 109.4 28.4 107.5C31.1 105.6 34.4 103.7 36.8 103.0C39.2 102.3 41.3 102.1 43.4 103.0C45.5 103.9 48.0 106.7 50.1 108.4C52.2 110.1 54.4 111.8 56.8 113.4C59.2 115.0 62.8 117.3 65.2 118.1C67.6 118.9 69.8 117.7 71.9 118.4C74.0 119.1 76.4 120.5 78.5 122.6C80.6 124.7 82.8 127.9 85.2 131.8C87.6 135.7 91.2 142.3 93.6 146.8C96.0 151.3 98.2 156.1 100.3 160.2C102.4 164.3 104.2 169.2 106.9 172.7C109.6 176.2 113.8 178.8 117.0 181.9C120.2 185.0 124.1 189.0 127.0 191.9C129.9 194.8 133.1 197.2 135.4 200.3C137.7 203.4 139.0 208.2 141.6 211.4C144.2 214.6 148.1 218.8 151.7 220.2C155.3 221.6 159.5 220.0 164.4 220.2C169.3 220.4 177.7 220.1 182.1 221.5C186.5 222.9 189.8 226.5 192.2 229.1C194.6 231.7 194.9 235.7 197.3 237.9C199.7 240.1 204.0 241.9 207.4 243.0C210.8 244.1 215.3 243.3 218.4 244.7C221.5 246.1 224.4 248.2 226.8 251.7C229.2 255.2 231.4 262.4 233.5 266.7C235.6 271.0 238.0 275.3 240.1 278.4C242.2 281.5 244.1 284.9 246.8 286.0C249.5 287.1 253.7 285.5 256.9 285.1C260.1 284.7 264.2 285.3 266.9 283.4C269.6 281.5 271.7 277.4 273.6 273.4C275.5 269.4 277.0 263.2 278.6 258.4C280.2 253.6 281.7 248.6 283.6 243.3C285.5 238.0 288.0 232.2 290.2 225.3C292.4 218.4 295.1 207.8 297.1 200.0C299.1 192.2 300.8 184.1 302.9 176.7C305.0 169.3 307.7 160.1 310.5 154.0C313.3 147.9 317.0 142.0 320.6 138.8C324.2 135.6 329.6 135.1 333.2 133.7C336.8 132.3 340.5 129.7 343.3 129.9C346.1 130.1 348.5 132.8 350.9 135.0C353.3 137.2 356.1 142.1 358.5 143.8C360.9 145.5 363.7 144.5 366.1 145.9C368.5 147.3 371.3 149.0 373.7 152.7C376.1 156.4 378.9 163.2 381.3 169.1C383.7 175.0 387.1 184.5 388.9 189.4C390.7 194.3 391.1 195.9 392.7 200.0C394.3 204.1 397.2 209.9 399.0 215.2C400.8 220.5 402.0 228.1 404.0 232.9C406.0 237.7 409.8 243.1 411.6 245.5C413.4 247.9 413.4 248.5 415.4 248.1C417.4 247.7 421.1 244.1 424.3 243.0C427.5 241.9 432.1 239.4 435.7 241.0C439.3 242.6 443.6 249.9 447.0 253.1C450.4 256.3 454.0 257.5 457.2 260.7C460.4 263.9 464.1 267.3 467.3 273.4C470.5 279.5 474.6 291.0 477.4 298.7C480.2 306.4 482.8 314.1 485.0 321.4C487.2 328.7 489.1 339.1 491.3 344.2C493.5 349.3 495.5 352.2 498.9 353.0C502.3 353.8 509.4 348.7 512.8 349.3C516.2 349.9 518.0 354.5 520.4 356.9C522.8 359.3 525.6 363.4 528.0 364.4C530.4 365.4 533.2 365.2 535.6 363.2C538.0 361.2 540.8 355.8 543.1 351.8C545.4 347.8 547.4 341.3 550.1 337.9C552.8 334.5 557.2 332.0 560.2 330.3C563.2 328.6 566.3 327.0 569.1 327.2C571.9 327.4 575.3 328.4 577.9 331.5C580.5 334.6 583.3 340.5 585.5 346.7C587.7 352.9 589.8 363.8 591.8 370.0C593.8 376.2 596.0 380.3 598.2 385.2C600.4 390.1 603.4 397.2 605.8 400.4C608.2 403.6 611.0 405.2 613.3 404.9C615.6 404.6 617.9 400.2 620.0 398.5C622.1 396.8 624.7 395.0 626.7 394.3C628.7 393.6 630.6 393.6 632.5 394.3C634.4 395.0 636.4 395.7 638.4 398.5C640.4 401.3 642.7 408.2 645.1 411.9C647.5 415.6 650.1 420.2 653.4 421.9C656.7 423.6 662.8 423.5 666.0 422.7C669.2 421.9 671.5 420.0 673.5 416.9C675.5 413.8 676.4 408.8 678.5 403.5C680.6 398.2 684.1 389.2 686.8 383.5C689.5 377.8 692.3 372.0 695.2 367.6C698.1 363.2 702.0 358.5 705.2 355.9C708.4 353.3 712.4 351.3 715.3 351.2C718.2 351.1 720.7 352.7 723.6 355.1C726.5 357.5 730.4 362.0 733.6 365.9C736.8 369.8 740.5 377.3 743.7 379.3C746.9 381.3 750.5 378.9 753.7 378.5C756.9 378.1 761.0 378.0 763.7 376.5C766.4 375.0 767.7 371.8 770.4 369.3C773.1 366.8 776.9 363.2 780.4 360.9C783.9 358.6 788.2 355.7 792.1 354.7C796.0 353.7 801.8 354.7 805.0 354.7C808.2 354.7 809.8 355.8 812.1 354.8C814.4 353.8 816.7 350.5 819.3 348.6C821.9 346.7 824.5 343.8 828.2 342.9C831.9 342.0 839.2 342.6 842.5 342.9C845.8 343.2 846.8 343.2 848.8 345.0C850.8 346.8 852.9 350.5 855.0 353.9C857.1 357.3 859.8 363.8 862.1 366.4C864.4 369.0 867.0 368.9 869.3 370.0C871.6 371.1 873.9 373.5 876.4 373.2C878.9 372.9 882.6 371.2 885.2 368.2C887.8 365.2 890.0 359.4 892.8 354.3C895.6 349.2 899.7 341.3 902.9 336.6C906.1 331.9 910.6 327.6 913.0 325.2C915.4 322.8 916.4 324.0 918.0 321.4C919.6 318.8 921.1 316.1 923.1 308.8C925.1 301.5 928.3 287.6 930.7 275.9C933.1 264.2 936.1 246.7 938.3 235.4C940.5 224.1 942.8 211.4 944.3 205.4C945.8 199.4 946.2 200.6 947.9 198.2C949.6 195.8 952.2 192.5 955.0 190.2C957.8 187.9 962.3 185.9 965.7 183.9C969.1 181.9 973.8 180.0 976.4 177.7C979.0 175.4 980.1 172.2 981.8 169.6C983.5 167.0 985.4 163.4 987.1 161.6C988.8 159.8 990.8 158.7 992.5 158.6C994.2 158.5 996.2 159.9 997.9 160.7C999.6 161.5 1001.2 162.7 1003.2 163.4C1005.2 164.1 1007.8 164.9 1010.4 165.2C1013.0 165.5 1016.6 164.8 1019.3 165.2C1022.0 165.6 1026.0 167.1 1027.3 167.5"/>
<rect x="1028" y="46.5" width="4.5" height="1" fill="#f6e3c4"/>
<text x="1037.5" y="51.3" font-size="12" fill="#82776a">58750.00</text>
<rect x="1028" y="102.5" width="4.5" height="1" fill="#f6e3c4"/>
<text x="1037.5" y="107.3" font-size="12" fill="#82776a">58700.00</text>
<rect x="1028" y="215.2" width="4.5" height="1" fill="#f6e3c4"/>
<text x="1037.5" y="220.0" font-size="12" fill="#82776a">58600.00</text>
<rect x="1028" y="271.3" width="4.5" height="1" fill="#f6e3c4"/>
<text x="1037.5" y="276.1" font-size="12" fill="#82776a">58550.00</text>
<rect x="1028" y="327.9" width="4.5" height="1" fill="#f6e3c4"/>
<text x="1037.5" y="332.7" font-size="12" fill="#82776a">58500.00</text>
<rect x="1028" y="384.3" width="4.5" height="1" fill="#f6e3c4"/>
<text x="1037.5" y="389.1" font-size="12" fill="#82776a">58450.00</text>
<rect x="1028" y="440.9" width="4.5" height="1" fill="#f6e3c4"/>
<text x="1037.5" y="445.7" font-size="12" fill="#82776a">58400.00</text>
<rect x="1028" y="497.3" width="4.5" height="1" fill="#f6e3c4"/>
<text x="1037.5" y="502.1" font-size="12" fill="#82776a">58350.00</text>
<rect x="1028" y="549.2" width="4.5" height="1" fill="#f6e3c4"/>
<text x="1037.5" y="554.0" font-size="12" fill="#82776a">58800.00</text>
<rect x="1028" y="596.8" width="4.5" height="1" fill="#f6e3c4"/>
<text x="1037.5" y="601.6" font-size="12" fill="#82776a">58600.00</text>
<rect x="1028" y="644.7" width="4.5" height="1" fill="#f6e3c4"/>
<text x="1037.5" y="649.5" font-size="12" fill="#82776a">58400.00</text>
<rect x="1027.5" y="151" width="71.5" height="20" fill="#68b07c"/>
<rect x="1028" y="160.7" width="4.5" height="1" fill="#ffffff"/>
<text x="1037.5" y="165.5" font-size="12" fill="#ffffff">58648.92</text>
<text x="851" y="32.3" font-size="12" fill="#1a1a1a">58765.55</text>
<path d="M907.2 29.5h7.4M912.2 27.2l2.5 2.3-2.5 2.3" fill="none" stroke="#1a1a1a" stroke-width="1"/>
<text x="557.5" y="513.2" font-size="12" fill="#1a1a1a">58339.61</text>
<path d="M613.3 509.5h7.4M618.3 507.2l2.5 2.3-2.5 2.3" fill="none" stroke="#1a1a1a" stroke-width="1"/>
<text x="8.8" y="13.8" font-size="12" fill="#111">时间:</text>
<text x="36.7" y="13.8" font-size="12" fill="#111">2021-04-06 20:17</text>
<text x="140.4" y="13.8" font-size="12" fill="#111">开:</text>
<text x="155.5" y="13.8" font-size="12" fill="#62b27c">58656.01</text>
<text x="213.7" y="13.8" font-size="12" fill="#111">高:</text>
<text x="228.5" y="13.8" font-size="12" fill="#62b27c">58666.39</text>
<text x="284.8" y="13.8" font-size="12" fill="#111">低:</text>
<text x="301.5" y="13.8" font-size="12" fill="#62b27c">58641.71</text>
<text x="358.0" y="13.8" font-size="12" fill="#111">收:</text>
<text x="374.3" y="13.8" font-size="12" fill="#62b27c">58648.92</text>
<text x="431.5" y="13.8" font-size="12" fill="#111">涨幅:</text>
<text x="458.5" y="13.8" font-size="12" fill="#62b27c">-0.01%(-7.09)</text>
<text x="540.2" y="13.8" font-size="12" fill="#111">振幅:</text>
<text x="567.6" y="13.8" font-size="12" fill="#62b27c">0.04%</text>
<path d="M18.8 44.8l4.2 4.4 4.2-4.4" fill="none" stroke="#d8c4a6" stroke-width="1.1"/>
<text x="36.7" y="49.6" font-size="12" fill="#111" textLength="115.8">Alligator(13,8,5,8,5,3)</text>
<g fill="none" stroke="#d2bfa2" stroke-width="1.2"><path d="M162.2 46.8C164.4 43.2 166.4 42.1 168.1 42.1C169.8 42.1 171.8 43.2 174 46.8C171.8 50.4 169.8 51.5 168.1 51.5C166.4 51.5 164.4 50.4 162.2 46.8z"/><circle cx="168.1" cy="46.8" r="1.9"/></g>
<g fill="none" stroke="#d2bfa2" stroke-width="1.2"><path d="M187 40.8l5.3 3v6l-5.3 3-5.3-3v-6z"/><circle cx="187" cy="46.8" r="2.1"/></g>
<path d="M201 42.2l9.4 9.2M210.4 42.2l-9.4 9.2" fill="none" stroke="#d2bfa2" stroke-width="1.2"/>
<text x="218.6" y="49.6" font-size="12" fill="#52c3a0">JAW:58576.60</text>
<text x="304" y="49.6" font-size="12" fill="#c79a2e">TEETH:58625.98</text>
<text x="404.2" y="49.6" font-size="12" fill="#c43fae">LIPS:58646.01</text>
<path d="M18.8 544.8l4.2 4.4 4.2-4.4" fill="none" stroke="#d8c4a6" stroke-width="1.1"/>
<text x="37" y="551" font-size="12" fill="#111">SAR(2,20)</text>
<g fill="none" stroke="#d2bfa2" stroke-width="1.1"><path d="M105 541.1l5 2.85v5.7l-5 2.85-5-2.85v-5.7z"/><circle cx="105" cy="546.8" r="2"/></g>
<path d="M120 542.8l8 8M128 542.8l-8 8" fill="none" stroke="#d2bfa2" stroke-width="1.1"/>
<text x="136.9" y="551" font-size="12" fill="#5d7fa8">SAR:58734.07</text>
<path d="M8.5 563.8V576.4M5.7 563.8h2.8M8.5 574.7h2.8" fill="none" stroke="#5fb562" stroke-width="1"/>
<path d="M15.5 567.5V575.3M12.7 574.8h2.8M15.5 567.5h2.8" fill="none" stroke="#e0503a" stroke-width="1"/>
<path d="M22.5 567.2V579.9M19.7 567.5h2.8M22.5 577.9h2.8" fill="none" stroke="#5fb562" stroke-width="1"/>
<path d="M29.5 577.7V583.3M26.7 577.7h2.8M29.5 583.3h2.8" fill="none" stroke="#5fb562" stroke-width="1"/>
<path d="M36.5 577.2V585.1M33.7 583.4h2.8M36.5 582.9h2.8" fill="none" stroke="#e0503a" stroke-width="1"/>
<path d="M43.5 577.7V583.3M40.7 583.3h2.8M43.5 577.7h2.8" fill="none" stroke="#e0503a" stroke-width="1"/>
<path d="M50.5 574.5V580.4M47.7 578.0h2.8M50.5 576.6h2.8" fill="none" stroke="#e0503a" stroke-width="1"/>
<path d="M57.5 577.2V588.1M54.7 577.2h2.8M57.5 588.1h2.8" fill="none" stroke="#5fb562" stroke-width="1"/>
<path d="M64.5 587.1V588.4M61.7 588.1h2.8M64.5 587.1h2.8" fill="none" stroke="#e0503a" stroke-width="1"/>
<path d="M71.5 587.1V596.8M68.7 587.1h2.8M71.5 594.9h2.8" fill="none" stroke="#5fb562" stroke-width="1"/>
<path d="M78.5 593.8V601.6M75.7 594.5h2.8M78.5 601.6h2.8" fill="none" stroke="#5fb562" stroke-width="1"/>
<path d="M85.5 599.6V606.2M82.7 601.5h2.8M85.5 601.3h2.8" fill="none" stroke="#e0503a" stroke-width="1"/>
<path d="M92.5 586.8V601.4M89.7 601.4h2.8M92.5 595.5h2.8" fill="none" stroke="#e0503a" stroke-width="1"/>
<path d="M99.5 595.7V600.9M96.7 595.8h2.8M99.5 596.0h2.8" fill="none" stroke="#5fb562" stroke-width="1"/>
<path d="M106.5 595.7V600.9M103.7 596.1h2.8M106.5 596.8h2.8" fill="none" stroke="#5fb562" stroke-width="1"/>
<path d="M113.5 596.6V606.2M110.7 596.6h2.8M113.5 599.3h2.8" fill="none" stroke="#5fb562" stroke-width="1"/>
<path d="M120.5 599.3V614.1M117.7 599.3h2.8M120.5 610.2h2.8" fill="none" stroke="#5fb562" stroke-width="1"/>
<path d="M127.5 601.4V613.7M124.7 610.2h2.8M127.5 604.5h2.8" fill="none" stroke="#e0503a" stroke-width="1"/>
<path d="M134.5 593.5V604.6M131.7 604.6h2.8M134.5 596.2h2.8" fill="none" stroke="#e0503a" stroke-width="1"/>
<path d="M141.5 591.9V602.2M138.7 596.2h2.8M141.5 601.4h2.8" fill="none" stroke="#5fb562" stroke-width="1"/>
<path d="M148.5 600.4V602.1M145.7 601.4h2.8M148.5 601.2h2.8" fill="none" stroke="#e0503a" stroke-width="1"/>
<path d="M155.5 594.5V601.6M152.7 601.3h2.8M155.5 595.0h2.8" fill="none" stroke="#e0503a" stroke-width="1"/>
<path d="M162.5 595.0V604.6M159.7 595.0h2.8M162.5 604.6h2.8" fill="none" stroke="#5fb562" stroke-width="1"/>
<path d="M169.5 599.8V612.0M166.7 604.5h2.8M169.5 612.0h2.8" fill="none" stroke="#5fb562" stroke-width="1"/>
<path d="M176.5 607.1V619.3M173.7 612.0h2.8M176.5 607.1h2.8" fill="none" stroke="#e0503a" stroke-width="1"/>
<path d="M183.5 602.6V610.2M180.7 607.2h2.8M183.5 606.0h2.8" fill="none" stroke="#e0503a" stroke-width="1"/>
<path d="M190.5 603.0V609.2M187.7 605.9h2.8M190.5 604.3h2.8" fill="none" stroke="#e0503a" stroke-width="1"/>
<path d="M197.5 601.4V605.2M194.7 604.5h2.8M197.5 601.4h2.8" fill="none" stroke="#e0503a" stroke-width="1"/>
<path d="M204.5 601.4V617.1M201.7 601.4h2.8M204.5 613.4h2.8" fill="none" stroke="#5fb562" stroke-width="1"/>
<path d="M211.5 611.8V629.3M208.7 614.4h2.8M211.5 621.4h2.8" fill="none" stroke="#5fb562" stroke-width="1"/>
<path d="M218.5 620.2V629.0M215.7 621.3h2.8M218.5 623.7h2.8" fill="none" stroke="#5fb562" stroke-width="1"/>
<path d="M225.5 611.4V625.3M222.7 623.7h2.8M225.5 612.9h2.8" fill="none" stroke="#e0503a" stroke-width="1"/>
<path d="M232.5 604.9V620.0M229.7 613.1h2.8M232.5 612.8h2.8" fill="none" stroke="#e0503a" stroke-width="1"/>
<path d="M239.5 609.7V615.9M236.7 610.6h2.8M239.5 613.6h2.8" fill="none" stroke="#5fb562" stroke-width="1"/>
<path d="M246.5 605.4V615.4M243.7 613.7h2.8M246.5 606.0h2.8" fill="none" stroke="#e0503a" stroke-width="1"/>
<path d="M253.5 591.5V609.7M250.7 606.1h2.8M253.5 591.5h2.8" fill="none" stroke="#e0503a" stroke-width="1"/>
<path d="M260.5 577.9V592.8M257.7 591.8h2.8M260.5 581.6h2.8" fill="none" stroke="#e0503a" stroke-width="1"/>
<path d="M267.5 575.6V593.3M264.7 581.7h2.8M267.5 576.3h2.8" fill="none" stroke="#e0503a" stroke-width="1"/>
<path d="M274.5 567.5V581.3M271.7 576.4h2.8M274.5 567.5h2.8" fill="none" stroke="#e0503a" stroke-width="1"/>
<path d="M281.5 565.2V573.2M278.7 567.7h2.8M281.5 566.1h2.8" fill="none" stroke="#e0503a" stroke-width="1"/>
<path d="M288.5 562.7V569.7M285.7 566.3h2.8M288.5 566.5h2.8" fill="none" stroke="#5fb562" stroke-width="1"/>
<path d="M295.5 565.9V579.5M292.7 566.3h2.8M295.5 579.5h2.8" fill="none" stroke="#5fb562" stroke-width="1"/>
<path d="M302.5 572.1V580.0M299.7 579.5h2.8M302.5 577.8h2.8" fill="none" stroke="#e0503a" stroke-width="1"/>
<path d="M309.5 574.8V585.4M306.7 577.8h2.8M309.5 578.8h2.8" fill="none" stroke="#5fb562" stroke-width="1"/>
<path d="M316.5 572.9V581.1M313.7 578.8h2.8M316.5 572.9h2.8" fill="none" stroke="#e0503a" stroke-width="1"/>
<path d="M323.5 572.6V581.2M320.7 572.9h2.8M323.5 581.2h2.8" fill="none" stroke="#5fb562" stroke-width="1"/>
<path d="M330.5 581.3V592.6M327.7 581.3h2.8M330.5 590.8h2.8" fill="none" stroke="#5fb562" stroke-width="1"/>
<path d="M337.5 587.1V592.7M334.7 591.5h2.8M337.5 589.4h2.8" fill="none" stroke="#e0503a" stroke-width="1"/>
<path d="M344.5 577.5V589.6M341.7 589.6h2.8M344.5 578.4h2.8" fill="none" stroke="#e0503a" stroke-width="1"/>
<path d="M351.5 578.4V597.9M348.7 578.4h2.8M351.5 594.5h2.8" fill="none" stroke="#5fb562" stroke-width="1"/>
<path d="M358.5 590.9V610.5M355.7 594.2h2.8M358.5 610.5h2.8" fill="none" stroke="#5fb562" stroke-width="1"/>
<path d="M365.5 601.3V612.1M362.7 610.4h2.8M365.5 610.6h2.8" fill="none" stroke="#5fb562" stroke-width="1"/>
<path d="M372.5 606.2V616.4M369.7 610.6h2.8M372.5 615.0h2.8" fill="none" stroke="#5fb562" stroke-width="1"/>
<path d="M379.5 614.9V622.1M376.7 614.9h2.8M379.5 621.8h2.8" fill="none" stroke="#5fb562" stroke-width="1"/>
<path d="M386.5 612.9V621.8M383.7 621.8h2.8M386.5 618.9h2.8" fill="none" stroke="#e0503a" stroke-width="1"/>
<path d="M393.5 599.9V623.7M390.7 619.0h2.8M393.5 602.4h2.8" fill="none" stroke="#e0503a" stroke-width="1"/>
<path d="M400.5 596.2V604.5M397.7 602.5h2.8M400.5 597.2h2.8" fill="none" stroke="#e0503a" stroke-width="1"/>
<path d="M407.5 596.2V606.4M404.7 597.2h2.8M407.5 604.6h2.8" fill="none" stroke="#5fb562" stroke-width="1"/>
<path d="M414.5 599.1V605.7M411.7 604.7h2.8M414.5 600.2h2.8" fill="none" stroke="#e0503a" stroke-width="1"/>
<path d="M421.5 600.2V621.9M418.7 600.2h2.8M421.5 617.9h2.8" fill="none" stroke="#5fb562" stroke-width="1"/>
<path d="M428.5 610.4V617.9M425.7 617.9h2.8M428.5 613.6h2.8" fill="none" stroke="#e0503a" stroke-width="1"/>
<path d="M435.5 607.4V613.7M432.7 613.7h2.8M435.5 611.2h2.8" fill="none" stroke="#e0503a" stroke-width="1"/>
<path d="M442.5 608.3V616.6M439.7 610.6h2.8M442.5 614.3h2.8" fill="none" stroke="#5fb562" stroke-width="1"/>
<path d="M449.5 614.3V627.0M446.7 614.3h2.8M449.5 627.0h2.8" fill="none" stroke="#5fb562" stroke-width="1"/>
<path d="M456.5 626.9V640.4M453.7 626.9h2.8M456.5 640.4h2.8" fill="none" stroke="#5fb562" stroke-width="1"/>
<path d="M463.5 633.3V642.8M460.7 640.3h2.8M463.5 641.9h2.8" fill="none" stroke="#5fb562" stroke-width="1"/>
<path d="M470.5 641.7V653.9M467.7 641.7h2.8M470.5 651.1h2.8" fill="none" stroke="#5fb562" stroke-width="1"/>
<path d="M477.5 616.7V653.0M474.7 651.1h2.8M477.5 622.7h2.8" fill="none" stroke="#e0503a" stroke-width="1"/>
<path d="M484.5 620.2V625.3M481.7 622.7h2.8M484.5 622.5h2.8" fill="none" stroke="#e0503a" stroke-width="1"/>
<path d="M491.5 621.0V629.0M488.7 622.7h2.8M491.5 626.9h2.8" fill="none" stroke="#5fb562" stroke-width="1"/>
<path d="M498.5 626.8V638.9M495.7 626.8h2.8M498.5 638.9h2.8" fill="none" stroke="#5fb562" stroke-width="1"/>
<path d="M505.5 632.2V639.2M502.7 638.7h2.8M505.5 632.2h2.8" fill="none" stroke="#e0503a" stroke-width="1"/>
<path d="M512.5 630.0V636.0M509.7 632.4h2.8M512.5 631.4h2.8" fill="none" stroke="#e0503a" stroke-width="1"/>
<path d="M519.5 614.4V631.5M516.7 631.5h2.8M519.5 614.4h2.8" fill="none" stroke="#e0503a" stroke-width="1"/>
<path d="M526.5 608.6V614.3M523.7 614.3h2.8M526.5 608.6h2.8" fill="none" stroke="#e0503a" stroke-width="1"/>
<path d="M533.5 606.8V625.7M530.7 608.6h2.8M533.5 621.3h2.8" fill="none" stroke="#5fb562" stroke-width="1"/>
<path d="M540.5 612.1V624.7M537.7 621.4h2.8M540.5 616.2h2.8" fill="none" stroke="#e0503a" stroke-width="1"/>
<path d="M547.5 615.7V621.5M544.7 616.7h2.8M547.5 620.6h2.8" fill="none" stroke="#5fb562" stroke-width="1"/>
<path d="M554.5 620.4V627.0M551.7 620.4h2.8M554.5 627.0h2.8" fill="none" stroke="#5fb562" stroke-width="1"/>
<path d="M561.5 627.0V643.2M558.7 627.0h2.8M561.5 642.5h2.8" fill="none" stroke="#5fb562" stroke-width="1"/>
<path d="M568.5 642.4V653.9M565.7 642.4h2.8M568.5 644.4h2.8" fill="none" stroke="#5fb562" stroke-width="1"/>
<path d="M575.5 643.6V655.5M572.7 644.2h2.8M575.5 652.9h2.8" fill="none" stroke="#5fb562" stroke-width="1"/>
<path d="M582.5 642.3V655.1M579.7 652.7h2.8M582.5 643.6h2.8" fill="none" stroke="#e0503a" stroke-width="1"/>
<path d="M589.5 632.9V657.9M586.7 643.6h2.8M589.5 645.9h2.8" fill="none" stroke="#5fb562" stroke-width="1"/>
<path d="M596.5 627.1V644.9M593.7 644.3h2.8M596.5 628.9h2.8" fill="none" stroke="#e0503a" stroke-width="1"/>
<path d="M603.5 624.6V633.9M600.7 628.9h2.8M603.5 632.8h2.8" fill="none" stroke="#5fb562" stroke-width="1"/>
<path d="M610.5 631.5V637.7M607.7 633.7h2.8M610.5 634.6h2.8" fill="none" stroke="#5fb562" stroke-width="1"/>
<path d="M617.5 634.0V645.5M614.7 634.4h2.8M617.5 643.9h2.8" fill="none" stroke="#5fb562" stroke-width="1"/>
<path d="M624.5 643.7V660.4M621.7 643.7h2.8M624.5 659.4h2.8" fill="none" stroke="#5fb562" stroke-width="1"/>
<path d="M631.5 639.6V659.7M628.7 659.4h2.8M631.5 646.8h2.8" fill="none" stroke="#e0503a" stroke-width="1"/>
<path d="M638.5 638.0V647.0M635.7 647.0h2.8M638.5 638.5h2.8" fill="none" stroke="#e0503a" stroke-width="1"/>
<path d="M645.5 638.6V646.2M642.7 638.6h2.8M645.5 646.2h2.8" fill="none" stroke="#5fb562" stroke-width="1"/>
<path d="M652.5 626.4V646.2M649.7 646.2h2.8M652.5 626.4h2.8" fill="none" stroke="#e0503a" stroke-width="1"/>
<path d="M659.5 613.4V626.4M656.7 626.4h2.8M659.5 613.4h2.8" fill="none" stroke="#e0503a" stroke-width="1"/>
<path d="M666.5 613.1V628.5M663.7 613.1h2.8M666.5 624.0h2.8" fill="none" stroke="#5fb562" stroke-width="1"/>
<path d="M673.5 621.3V624.0M670.7 624.0h2.8M673.5 623.1h2.8" fill="none" stroke="#e0503a" stroke-width="1"/>
<path d="M680.5 611.9V623.2M677.7 623.2h2.8M680.5 612.5h2.8" fill="none" stroke="#e0503a" stroke-width="1"/>
<path d="M687.5 612.5V633.2M684.7 612.5h2.8M687.5 628.8h2.8" fill="none" stroke="#5fb562" stroke-width="1"/>
<path d="M694.5 618.7V630.7M691.7 628.6h2.8M694.5 630.7h2.8" fill="none" stroke="#5fb562" stroke-width="1"/>
<path d="M701.5 626.5V631.3M698.7 630.3h2.8M701.5 631.3h2.8" fill="none" stroke="#5fb562" stroke-width="1"/>
<path d="M708.5 630.3V633.4M705.7 631.2h2.8M708.5 633.4h2.8" fill="none" stroke="#5fb562" stroke-width="1"/>
<path d="M715.5 633.3V646.8M712.7 633.3h2.8M715.5 645.1h2.8" fill="none" stroke="#5fb562" stroke-width="1"/>
<path d="M722.5 636.6V645.1M719.7 645.1h2.8M722.5 638.0h2.8" fill="none" stroke="#e0503a" stroke-width="1"/>
<path d="M729.5 626.5V639.6M726.7 638.1h2.8M729.5 632.4h2.8" fill="none" stroke="#e0503a" stroke-width="1"/>
<path d="M736.5 628.2V632.6M733.7 632.6h2.8M736.5 629.8h2.8" fill="none" stroke="#e0503a" stroke-width="1"/>
<path d="M743.5 627.5V634.4M740.7 629.9h2.8M743.5 628.2h2.8" fill="none" stroke="#e0503a" stroke-width="1"/>
<path d="M750.5 618.3V629.0M747.7 628.2h2.8M750.5 620.6h2.8" fill="none" stroke="#e0503a" stroke-width="1"/>
<path d="M757.5 620.2V629.0M754.7 620.6h2.8M757.5 627.1h2.8" fill="none" stroke="#5fb562" stroke-width="1"/>
<path d="M764.5 620.3V628.8M761.7 627.3h2.8M764.5 621.4h2.8" fill="none" stroke="#e0503a" stroke-width="1"/>
<path d="M771.5 620.3V626.1M768.7 621.4h2.8M771.5 624.3h2.8" fill="none" stroke="#5fb562" stroke-width="1"/>
<path d="M778.5 624.2V629.0M775.7 624.2h2.8M778.5 628.8h2.8" fill="none" stroke="#5fb562" stroke-width="1"/>
<path d="M785.5 623.5V630.3M782.7 628.7h2.8M785.5 625.1h2.8" fill="none" stroke="#e0503a" stroke-width="1"/>
<path d="M792.5 624.5V630.2M789.7 625.1h2.8M792.5 626.9h2.8" fill="none" stroke="#5fb562" stroke-width="1"/>
<path d="M799.5 613.2V626.9M796.7 626.9h2.8M799.5 613.5h2.8" fill="none" stroke="#e0503a" stroke-width="1"/>
<path d="M806.5 613.2V630.7M803.7 615.3h2.8M806.5 620.7h2.8" fill="none" stroke="#5fb562" stroke-width="1"/>
<path d="M813.5 618.9V630.5M810.7 620.6h2.8M813.5 628.5h2.8" fill="none" stroke="#5fb562" stroke-width="1"/>
<path d="M820.5 619.3V628.3M817.7 628.3h2.8M820.5 622.4h2.8" fill="none" stroke="#e0503a" stroke-width="1"/>
<path d="M827.5 621.3V632.4M824.7 622.4h2.8M827.5 632.4h2.8" fill="none" stroke="#5fb562" stroke-width="1"/>
<path d="M834.5 630.4V644.8M831.7 632.2h2.8M834.5 644.8h2.8" fill="none" stroke="#5fb562" stroke-width="1"/>
<path d="M841.5 632.4V644.8M838.7 644.8h2.8M841.5 635.9h2.8" fill="none" stroke="#e0503a" stroke-width="1"/>
<path d="M848.5 629.3V637.4M845.7 635.9h2.8M848.5 631.7h2.8" fill="none" stroke="#e0503a" stroke-width="1"/>
<path d="M855.5 631.3V638.1M852.7 631.6h2.8M855.5 632.6h2.8" fill="none" stroke="#5fb562" stroke-width="1"/>
<path d="M862.5 621.3V633.8M859.7 632.6h2.8M862.5 621.3h2.8" fill="none" stroke="#e0503a" stroke-width="1"/>
<path d="M869.5 617.7V623.6M866.7 621.3h2.8M869.5 621.8h2.8" fill="none" stroke="#5fb562" stroke-width="1"/>
<path d="M876.5 610.9V622.4M873.7 622.0h2.8M876.5 610.9h2.8" fill="none" stroke="#e0503a" stroke-width="1"/>
<path d="M883.5 610.3V615.9M880.7 610.8h2.8M883.5 611.9h2.8" fill="none" stroke="#5fb562" stroke-width="1"/>
<path d="M890.5 610.0V615.8M887.7 611.8h2.8M890.5 611.6h2.8" fill="none" stroke="#e0503a" stroke-width="1"/>
<path d="M897.5 609.1V623.1M894.7 611.7h2.8M897.5 614.4h2.8" fill="none" stroke="#5fb562" stroke-width="1"/>
<path d="M904.5 590.3V616.7M901.7 614.4h2.8M904.5 590.3h2.8" fill="none" stroke="#e0503a" stroke-width="1"/>
<path d="M911.5 567.0V590.3M908.7 590.3h2.8M911.5 571.0h2.8" fill="none" stroke="#e0503a" stroke-width="1"/>
<path d="M918.5 558.5V571.8M915.7 571.1h2.8M918.5 562.3h2.8" fill="none" stroke="#e0503a" stroke-width="1"/>
<path d="M925.5 563.8V579.8M922.7 563.8h2.8M925.5 574.1h2.8" fill="none" stroke="#5fb562" stroke-width="1"/>
<path d="M932.5 574.0V597.6M929.7 574.0h2.8M932.5 582.3h2.8" fill="none" stroke="#5fb562" stroke-width="1"/>
<path d="M939.5 579.1V596.2M936.7 582.2h2.8M939.5 593.6h2.8" fill="none" stroke="#5fb562" stroke-width="1"/>
<path d="M946.5 578.9V595.9M943.7 592.3h2.8M946.5 595.9h2.8" fill="none" stroke="#5fb562" stroke-width="1"/>
<path d="M953.5 581.4V595.9M950.7 595.9h2.8M953.5 581.6h2.8" fill="none" stroke="#e0503a" stroke-width="1"/>
<path d="M960.5 577.8V587.5M957.7 581.7h2.8M960.5 578.0h2.8" fill="none" stroke="#e0503a" stroke-width="1"/>
<path d="M967.5 570.1V578.4M964.7 577.8h2.8M967.5 578.4h2.8" fill="none" stroke="#5fb562" stroke-width="1"/>
<path d="M974.5 578.2V594.5M971.7 578.2h2.8M974.5 594.1h2.8" fill="none" stroke="#5fb562" stroke-width="1"/>
<path d="M981.5 587.5V594.1M978.7 594.1h2.8M981.5 587.5h2.8" fill="none" stroke="#e0503a" stroke-width="1"/>
<path d="M988.5 581.4V594.5M985.7 587.6h2.8M988.5 583.1h2.8" fill="none" stroke="#e0503a" stroke-width="1"/>
<path d="M995.5 583.1V590.4M992.7 583.1h2.8M995.5 587.2h2.8" fill="none" stroke="#5fb562" stroke-width="1"/>
<path d="M1002.5 586.4V592.8M999.7 586.4h2.8M1002.5 592.3h2.8" fill="none" stroke="#5fb562" stroke-width="1"/>
<path d="M1009.5 582.2V594.1M1006.7 592.2h2.8M1009.5 584.8h2.8" fill="none" stroke="#e0503a" stroke-width="1"/>
<path d="M1016.5 582.2V588.1M1013.7 584.8h2.8M1016.5 586.7h2.8" fill="none" stroke="#5fb562" stroke-width="1"/>
<circle cx="8.5" cy="585.4" r="1.9" fill="none" stroke="#5d7fa8" stroke-width="1.2"/>
<circle cx="15.5" cy="585.4" r="1.9" fill="none" stroke="#5d7fa8" stroke-width="1.2"/>
<circle cx="22.5" cy="585.0" r="1.9" fill="none" stroke="#5d7fa8" stroke-width="1.2"/>
<circle cx="29.5" cy="584.4" r="1.9" fill="none" stroke="#5d7fa8" stroke-width="1.2"/>
<circle cx="36.5" cy="567.3" r="1.9" fill="none" stroke="#5d7fa8" stroke-width="1.2"/>
<circle cx="43.5" cy="567.7" r="1.9" fill="none" stroke="#5d7fa8" stroke-width="1.2"/>
<circle cx="50.5" cy="567.9" r="1.9" fill="none" stroke="#5d7fa8" stroke-width="1.2"/>
<circle cx="57.5" cy="568.3" r="1.9" fill="none" stroke="#5d7fa8" stroke-width="1.2"/>
<circle cx="64.5" cy="569.1" r="1.9" fill="none" stroke="#5d7fa8" stroke-width="1.2"/>
<circle cx="71.5" cy="570.5" r="1.9" fill="none" stroke="#5d7fa8" stroke-width="1.2"/>
<circle cx="78.5" cy="572.6" r="1.9" fill="none" stroke="#5d7fa8" stroke-width="1.2"/>
<circle cx="85.5" cy="575.4" r="1.9" fill="none" stroke="#5d7fa8" stroke-width="1.2"/>
<circle cx="92.5" cy="579.1" r="1.9" fill="none" stroke="#5d7fa8" stroke-width="1.2"/>
<circle cx="99.5" cy="582.6" r="1.9" fill="none" stroke="#5d7fa8" stroke-width="1.2"/>
<circle cx="106.5" cy="585.4" r="1.9" fill="none" stroke="#5d7fa8" stroke-width="1.2"/>
<circle cx="113.5" cy="588.3" r="1.9" fill="none" stroke="#5d7fa8" stroke-width="1.2"/>
<circle cx="120.5" cy="590.3" r="1.9" fill="none" stroke="#5d7fa8" stroke-width="1.2"/>
<circle cx="127.5" cy="593.8" r="1.9" fill="none" stroke="#5d7fa8" stroke-width="1.2"/>
<circle cx="134.5" cy="614.6" r="1.9" fill="none" stroke="#5d7fa8" stroke-width="1.2"/>
<circle cx="141.5" cy="614.2" r="1.9" fill="none" stroke="#5d7fa8" stroke-width="1.2"/>
<circle cx="148.5" cy="613.4" r="1.9" fill="none" stroke="#5d7fa8" stroke-width="1.2"/>
<circle cx="155.5" cy="612.6" r="1.9" fill="none" stroke="#5d7fa8" stroke-width="1.2"/>
<circle cx="162.5" cy="612.0" r="1.9" fill="none" stroke="#5d7fa8" stroke-width="1.2"/>
<circle cx="169.5" cy="594.8" r="1.9" fill="none" stroke="#5d7fa8" stroke-width="1.2"/>
<circle cx="176.5" cy="595.4" r="1.9" fill="none" stroke="#5d7fa8" stroke-width="1.2"/>
<circle cx="183.5" cy="596.2" r="1.9" fill="none" stroke="#5d7fa8" stroke-width="1.2"/>
<circle cx="190.5" cy="597.1" r="1.9" fill="none" stroke="#5d7fa8" stroke-width="1.2"/>
<circle cx="197.5" cy="598.3" r="1.9" fill="none" stroke="#5d7fa8" stroke-width="1.2"/>
<circle cx="204.5" cy="599.3" r="1.9" fill="none" stroke="#5d7fa8" stroke-width="1.2"/>
<circle cx="211.5" cy="600.1" r="1.9" fill="none" stroke="#5d7fa8" stroke-width="1.2"/>
<circle cx="218.5" cy="601.6" r="1.9" fill="none" stroke="#5d7fa8" stroke-width="1.2"/>
<circle cx="225.5" cy="603.4" r="1.9" fill="none" stroke="#5d7fa8" stroke-width="1.2"/>
<circle cx="232.5" cy="605.0" r="1.9" fill="none" stroke="#5d7fa8" stroke-width="1.2"/>
<circle cx="239.5" cy="606.5" r="1.9" fill="none" stroke="#5d7fa8" stroke-width="1.2"/>
<circle cx="246.5" cy="625.9" r="1.9" fill="none" stroke="#5d7fa8" stroke-width="1.2"/>
<circle cx="253.5" cy="625.4" r="1.9" fill="none" stroke="#5d7fa8" stroke-width="1.2"/>
<circle cx="260.5" cy="624.2" r="1.9" fill="none" stroke="#5d7fa8" stroke-width="1.2"/>
<circle cx="267.5" cy="621.6" r="1.9" fill="none" stroke="#5d7fa8" stroke-width="1.2"/>
<circle cx="274.5" cy="617.7" r="1.9" fill="none" stroke="#5d7fa8" stroke-width="1.2"/>
<circle cx="281.5" cy="612.6" r="1.9" fill="none" stroke="#5d7fa8" stroke-width="1.2"/>
<circle cx="288.5" cy="606.9" r="1.9" fill="none" stroke="#5d7fa8" stroke-width="1.2"/>
<circle cx="295.5" cy="600.7" r="1.9" fill="none" stroke="#5d7fa8" stroke-width="1.2"/>
<circle cx="302.5" cy="595.2" r="1.9" fill="none" stroke="#5d7fa8" stroke-width="1.2"/>
<circle cx="309.5" cy="590.3" r="1.9" fill="none" stroke="#5d7fa8" stroke-width="1.2"/>
<circle cx="316.5" cy="586.2" r="1.9" fill="none" stroke="#5d7fa8" stroke-width="1.2"/>
<circle cx="323.5" cy="583.0" r="1.9" fill="none" stroke="#5d7fa8" stroke-width="1.2"/>
<circle cx="330.5" cy="572.6" r="1.9" fill="none" stroke="#5d7fa8" stroke-width="1.2"/>
<circle cx="337.5" cy="573.0" r="1.9" fill="none" stroke="#5d7fa8" stroke-width="1.2"/>
<circle cx="344.5" cy="573.6" r="1.9" fill="none" stroke="#5d7fa8" stroke-width="1.2"/>
<circle cx="351.5" cy="574.4" r="1.9" fill="none" stroke="#5d7fa8" stroke-width="1.2"/>
<circle cx="358.5" cy="576.2" r="1.9" fill="none" stroke="#5d7fa8" stroke-width="1.2"/>
<circle cx="365.5" cy="578.7" r="1.9" fill="none" stroke="#5d7fa8" stroke-width="1.2"/>
<circle cx="372.5" cy="582.4" r="1.9" fill="none" stroke="#5d7fa8" stroke-width="1.2"/>
<circle cx="379.5" cy="586.4" r="1.9" fill="none" stroke="#5d7fa8" stroke-width="1.2"/>
<circle cx="386.5" cy="591.1" r="1.9" fill="none" stroke="#5d7fa8" stroke-width="1.2"/>
<circle cx="393.5" cy="595.8" r="1.9" fill="none" stroke="#5d7fa8" stroke-width="1.2"/>
<circle cx="400.5" cy="624.4" r="1.9" fill="none" stroke="#5d7fa8" stroke-width="1.2"/>
<circle cx="407.5" cy="624.0" r="1.9" fill="none" stroke="#5d7fa8" stroke-width="1.2"/>
<circle cx="414.5" cy="623.4" r="1.9" fill="none" stroke="#5d7fa8" stroke-width="1.2"/>
<circle cx="421.5" cy="622.8" r="1.9" fill="none" stroke="#5d7fa8" stroke-width="1.2"/>
<circle cx="428.5" cy="622.4" r="1.9" fill="none" stroke="#5d7fa8" stroke-width="1.2"/>
<circle cx="435.5" cy="621.8" r="1.9" fill="none" stroke="#5d7fa8" stroke-width="1.2"/>
<circle cx="442.5" cy="621.4" r="1.9" fill="none" stroke="#5d7fa8" stroke-width="1.2"/>
<circle cx="449.5" cy="607.7" r="1.9" fill="none" stroke="#5d7fa8" stroke-width="1.2"/>
<circle cx="456.5" cy="608.3" r="1.9" fill="none" stroke="#5d7fa8" stroke-width="1.2"/>
<circle cx="463.5" cy="609.5" r="1.9" fill="none" stroke="#5d7fa8" stroke-width="1.2"/>
<circle cx="470.5" cy="611.6" r="1.9" fill="none" stroke="#5d7fa8" stroke-width="1.2"/>
<circle cx="477.5" cy="615.0" r="1.9" fill="none" stroke="#5d7fa8" stroke-width="1.2"/>
<circle cx="484.5" cy="618.3" r="1.9" fill="none" stroke="#5d7fa8" stroke-width="1.2"/>
<circle cx="491.5" cy="621.2" r="1.9" fill="none" stroke="#5d7fa8" stroke-width="1.2"/>
<circle cx="498.5" cy="623.8" r="1.9" fill="none" stroke="#5d7fa8" stroke-width="1.2"/>
<circle cx="505.5" cy="626.3" r="1.9" fill="none" stroke="#5d7fa8" stroke-width="1.2"/>
<circle cx="512.5" cy="628.5" r="1.9" fill="none" stroke="#5d7fa8" stroke-width="1.2"/>
<circle cx="519.5" cy="639.9" r="1.9" fill="none" stroke="#5d7fa8" stroke-width="1.2"/>
<circle cx="526.5" cy="639.3" r="1.9" fill="none" stroke="#5d7fa8" stroke-width="1.2"/>
<circle cx="533.5" cy="638.3" r="1.9" fill="none" stroke="#5d7fa8" stroke-width="1.2"/>
<circle cx="540.5" cy="636.5" r="1.9" fill="none" stroke="#5d7fa8" stroke-width="1.2"/>
<circle cx="547.5" cy="634.6" r="1.9" fill="none" stroke="#5d7fa8" stroke-width="1.2"/>
<circle cx="554.5" cy="633.2" r="1.9" fill="none" stroke="#5d7fa8" stroke-width="1.2"/>
<circle cx="561.5" cy="612.8" r="1.9" fill="none" stroke="#5d7fa8" stroke-width="1.2"/>
<circle cx="568.5" cy="613.4" r="1.9" fill="none" stroke="#5d7fa8" stroke-width="1.2"/>
<circle cx="575.5" cy="615.0" r="1.9" fill="none" stroke="#5d7fa8" stroke-width="1.2"/>
<circle cx="582.5" cy="617.5" r="1.9" fill="none" stroke="#5d7fa8" stroke-width="1.2"/>
<circle cx="589.5" cy="619.7" r="1.9" fill="none" stroke="#5d7fa8" stroke-width="1.2"/>
<circle cx="596.5" cy="623.2" r="1.9" fill="none" stroke="#5d7fa8" stroke-width="1.2"/>
<circle cx="603.5" cy="658.9" r="1.9" fill="none" stroke="#5d7fa8" stroke-width="1.2"/>
<circle cx="610.5" cy="658.1" r="1.9" fill="none" stroke="#5d7fa8" stroke-width="1.2"/>
<circle cx="617.5" cy="657.5" r="1.9" fill="none" stroke="#5d7fa8" stroke-width="1.2"/>
<circle cx="624.5" cy="625.0" r="1.9" fill="none" stroke="#5d7fa8" stroke-width="1.2"/>
<circle cx="631.5" cy="625.9" r="1.9" fill="none" stroke="#5d7fa8" stroke-width="1.2"/>
<circle cx="638.5" cy="626.7" r="1.9" fill="none" stroke="#5d7fa8" stroke-width="1.2"/>
<circle cx="645.5" cy="627.5" r="1.9" fill="none" stroke="#5d7fa8" stroke-width="1.2"/>
<circle cx="652.5" cy="660.6" r="1.9" fill="none" stroke="#5d7fa8" stroke-width="1.2"/>
<circle cx="659.5" cy="659.6" r="1.9" fill="none" stroke="#5d7fa8" stroke-width="1.2"/>
<circle cx="666.5" cy="658.1" r="1.9" fill="none" stroke="#5d7fa8" stroke-width="1.2"/>
<circle cx="673.5" cy="655.5" r="1.9" fill="none" stroke="#5d7fa8" stroke-width="1.2"/>
<circle cx="680.5" cy="652.8" r="1.9" fill="none" stroke="#5d7fa8" stroke-width="1.2"/>
<circle cx="687.5" cy="649.7" r="1.9" fill="none" stroke="#5d7fa8" stroke-width="1.2"/>
<circle cx="694.5" cy="646.7" r="1.9" fill="none" stroke="#5d7fa8" stroke-width="1.2"/>
<circle cx="701.5" cy="644.0" r="1.9" fill="none" stroke="#5d7fa8" stroke-width="1.2"/>
<circle cx="708.5" cy="641.4" r="1.9" fill="none" stroke="#5d7fa8" stroke-width="1.2"/>
<circle cx="715.5" cy="618.9" r="1.9" fill="none" stroke="#5d7fa8" stroke-width="1.2"/>
<circle cx="722.5" cy="619.5" r="1.9" fill="none" stroke="#5d7fa8" stroke-width="1.2"/>
<circle cx="729.5" cy="620.1" r="1.9" fill="none" stroke="#5d7fa8" stroke-width="1.2"/>
<circle cx="736.5" cy="620.7" r="1.9" fill="none" stroke="#5d7fa8" stroke-width="1.2"/>
<circle cx="743.5" cy="621.4" r="1.9" fill="none" stroke="#5d7fa8" stroke-width="1.2"/>
<circle cx="750.5" cy="640.3" r="1.9" fill="none" stroke="#5d7fa8" stroke-width="1.2"/>
<circle cx="757.5" cy="639.9" r="1.9" fill="none" stroke="#5d7fa8" stroke-width="1.2"/>
<circle cx="764.5" cy="639.5" r="1.9" fill="none" stroke="#5d7fa8" stroke-width="1.2"/>
<circle cx="771.5" cy="639.1" r="1.9" fill="none" stroke="#5d7fa8" stroke-width="1.2"/>
<circle cx="778.5" cy="638.7" r="1.9" fill="none" stroke="#5d7fa8" stroke-width="1.2"/>
<circle cx="785.5" cy="638.3" r="1.9" fill="none" stroke="#5d7fa8" stroke-width="1.2"/>
<circle cx="792.5" cy="637.9" r="1.9" fill="none" stroke="#5d7fa8" stroke-width="1.2"/>
<circle cx="799.5" cy="637.5" r="1.9" fill="none" stroke="#5d7fa8" stroke-width="1.2"/>
<circle cx="806.5" cy="636.5" r="1.9" fill="none" stroke="#5d7fa8" stroke-width="1.2"/>
<circle cx="813.5" cy="635.4" r="1.9" fill="none" stroke="#5d7fa8" stroke-width="1.2"/>
<circle cx="820.5" cy="634.6" r="1.9" fill="none" stroke="#5d7fa8" stroke-width="1.2"/>
<circle cx="827.5" cy="634.0" r="1.9" fill="none" stroke="#5d7fa8" stroke-width="1.2"/>
<circle cx="834.5" cy="619.3" r="1.9" fill="none" stroke="#5d7fa8" stroke-width="1.2"/>
<circle cx="841.5" cy="619.7" r="1.9" fill="none" stroke="#5d7fa8" stroke-width="1.2"/>
<circle cx="848.5" cy="620.7" r="1.9" fill="none" stroke="#5d7fa8" stroke-width="1.2"/>
<circle cx="855.5" cy="622.0" r="1.9" fill="none" stroke="#5d7fa8" stroke-width="1.2"/>
<circle cx="862.5" cy="645.9" r="1.9" fill="none" stroke="#5d7fa8" stroke-width="1.2"/>
<circle cx="869.5" cy="645.5" r="1.9" fill="none" stroke="#5d7fa8" stroke-width="1.2"/>
<circle cx="876.5" cy="644.4" r="1.9" fill="none" stroke="#5d7fa8" stroke-width="1.2"/>
<circle cx="883.5" cy="642.2" r="1.9" fill="none" stroke="#5d7fa8" stroke-width="1.2"/>
<circle cx="890.5" cy="639.9" r="1.9" fill="none" stroke="#5d7fa8" stroke-width="1.2"/>
<circle cx="897.5" cy="636.7" r="1.9" fill="none" stroke="#5d7fa8" stroke-width="1.2"/>
<circle cx="904.5" cy="633.6" r="1.9" fill="none" stroke="#5d7fa8" stroke-width="1.2"/>
<circle cx="911.5" cy="627.5" r="1.9" fill="none" stroke="#5d7fa8" stroke-width="1.2"/>
<circle cx="918.5" cy="617.7" r="1.9" fill="none" stroke="#5d7fa8" stroke-width="1.2"/>
<circle cx="925.5" cy="606.9" r="1.9" fill="none" stroke="#5d7fa8" stroke-width="1.2"/>
<circle cx="932.5" cy="598.3" r="1.9" fill="none" stroke="#5d7fa8" stroke-width="1.2"/>
<circle cx="939.5" cy="558.5" r="1.9" fill="none" stroke="#5d7fa8" stroke-width="1.2"/>
<circle cx="946.5" cy="559.1" r="1.9" fill="none" stroke="#5d7fa8" stroke-width="1.2"/>
<circle cx="953.5" cy="559.9" r="1.9" fill="none" stroke="#5d7fa8" stroke-width="1.2"/>
<circle cx="960.5" cy="560.5" r="1.9" fill="none" stroke="#5d7fa8" stroke-width="1.2"/>
<circle cx="967.5" cy="561.1" r="1.9" fill="none" stroke="#5d7fa8" stroke-width="1.2"/>
<circle cx="974.5" cy="561.7" r="1.9" fill="none" stroke="#5d7fa8" stroke-width="1.2"/>
<circle cx="981.5" cy="562.6" r="1.9" fill="none" stroke="#5d7fa8" stroke-width="1.2"/>
<circle cx="988.5" cy="563.4" r="1.9" fill="none" stroke="#5d7fa8" stroke-width="1.2"/>
<circle cx="995.5" cy="564.2" r="1.9" fill="none" stroke="#5d7fa8" stroke-width="1.2"/>
<circle cx="1002.5" cy="564.8" r="1.9" fill="none" stroke="#5d7fa8" stroke-width="1.2"/>
<circle cx="1009.5" cy="565.4" r="1.9" fill="none" stroke="#5d7fa8" stroke-width="1.2"/>
<circle cx="1016.5" cy="566.0" r="1.9" fill="none" stroke="#5d7fa8" stroke-width="1.2"/>
<g fill="none" stroke="#c4b49c" stroke-width="1"><rect x="961.3" y="6.5" width="17.6" height="13.8"/><path d="M966 4.8v3.6M974.4 4.8v3.6M964 11.4h9.5M964 14.1h7M964 16.7h4.8"/></g>
<path d="M1053.5 0h34.5l-2.5 9.3q-.5 2-2.5 2h-24.5q-2 0-2.5-2z" fill="#ffffff"/>
<path d="M1067.3 7.6l3.6-3.4 3.6 3.4" fill="none" stroke="#444" stroke-width="1"/>
<path d="M1094 641.5h5.5v30.5h-11.5v-24.5q0-6 6-6z" fill="#ffffff"/>
<path d="M1092.8 653.5l3.4 3.5-3.4 3.5" fill="none" stroke="#444" stroke-width="1"/>
<text x="13.0" y="680" font-size="12" font-weight="bold" fill="#111">17:55</text>
<text x="54.5" y="680" font-size="12" font-weight="bold" fill="#111">18:01</text>
<text x="96.0" y="680" font-size="12" font-weight="bold" fill="#111">18:07</text>
<text x="137.5" y="680" font-size="12" font-weight="bold" fill="#111">18:13</text>
<text x="179.0" y="680" font-size="12" font-weight="bold" fill="#111">18:19</text>
<text x="220.5" y="680" font-size="12" font-weight="bold" fill="#111">18:25</text>
<text x="262.0" y="680" font-size="12" font-weight="bold" fill="#111">18:31</text>
<text x="303.5" y="680" font-size="12" font-weight="bold" fill="#111">18:37</text>
<text x="345.0" y="680" font-size="12" font-weight="bold" fill="#111">18:43</text>
<text x="386.5" y="680" font-size="12" font-weight="bold" fill="#111">18:49</text>
<text x="428.0" y="680" font-size="12" font-weight="bold" fill="#111">18:55</text>
<text x="469.5" y="680" font-size="12" font-weight="bold" fill="#111">19:01</text>
<text x="511.0" y="680" font-size="12" font-weight="bold" fill="#111">19:07</text>
<text x="552.5" y="680" font-size="12" font-weight="bold" fill="#111">19:13</text>
<text x="594.0" y="680" font-size="12" font-weight="bold" fill="#111">19:19</text>
<text x="635.5" y="680" font-size="12" font-weight="bold" fill="#111">19:25</text>
<text x="677.0" y="680" font-size="12" font-weight="bold" fill="#111">19:31</text>
<text x="718.5" y="680" font-size="12" font-weight="bold" fill="#111">19:37</text>
<text x="760.0" y="680" font-size="12" font-weight="bold" fill="#111">19:43</text>
<text x="801.5" y="680" font-size="12" font-weight="bold" fill="#111">19:49</text>
<text x="843.0" y="680" font-size="12" font-weight="bold" fill="#111">19:55</text>
<text x="884.5" y="680" font-size="12" font-weight="bold" fill="#111">20:01</text>
<text x="926.0" y="680" font-size="12" font-weight="bold" fill="#111">20:07</text>
<text x="967.5" y="680" font-size="12" font-weight="bold" fill="#111">20:13</text>
<g opacity="0.82"><text x="918 963.7 1008.7 1054.3" y="648.5" font-size="42" font-weight="900" fill="#4aa9d6" style="font-family:'Noto Sans CJK SC',sans-serif">自链财经</text></g>
<text x="1037.5" y="649.5" font-size="12" fill="#6d6a66" opacity="0.85">58400.00</text>
<circle cx="983.7" cy="616.7" r="3.6" fill="#ff5a2a"/>
<path d="M1037.3 624.6h5l-6.6 20.5h-5z" fill="#ff5a2a"/>
</svg></body></html>
